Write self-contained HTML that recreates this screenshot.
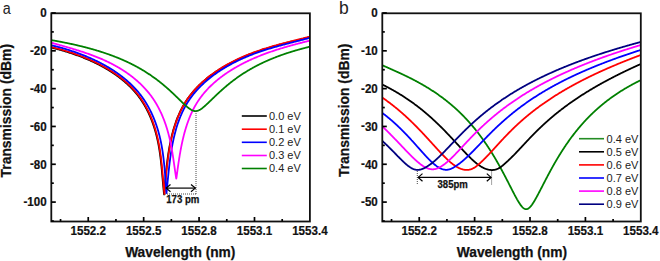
<!DOCTYPE html>
<html><head><meta charset="utf-8"><style>
html,body{margin:0;padding:0;background:#fff;}
svg{display:block;}
text{font-family:"Liberation Sans",sans-serif;}
.tk{font-size:12.3px;font-weight:bold;fill:#111;stroke:#111;stroke-width:0.2px;}
.ti{font-size:13.9px;font-weight:bold;fill:#111;stroke:#111;stroke-width:0.25px;}
.pl{font-size:17.5px;fill:#222;}
.lg{font-size:11px;fill:#222;}
.an{font-size:10.6px;font-weight:bold;fill:#111;stroke:#111;stroke-width:0.25px;}
</style></head><body>
<svg xmlns="http://www.w3.org/2000/svg" width="660" height="261" viewBox="0 0 660 261">
<defs><clipPath id="ca"><rect x="51.3" y="13.3" width="258.60" height="208.2"/></clipPath><clipPath id="cb"><rect x="382.3" y="13.3" width="258.50" height="208.2"/></clipPath></defs>
<rect width="660" height="261" fill="#fff"/>
<polyline clip-path="url(#ca)" points="49.60,47.16 50.25,47.31 50.89,47.47 51.54,47.62 52.18,47.78 52.83,47.94 53.48,48.10 54.13,48.26 54.78,48.43 55.43,48.59 56.08,48.76 56.73,48.93 57.39,49.11 58.04,49.28 58.69,49.46 59.35,49.64 60.00,49.82 60.66,50.00 61.32,50.19 61.98,50.37 62.63,50.56 63.29,50.76 63.95,50.95 64.61,51.15 65.27,51.34 65.93,51.54 66.59,51.75 67.25,51.95 67.91,52.16 68.57,52.37 69.23,52.58 69.89,52.79 70.55,53.01 71.21,53.22 71.87,53.44 72.53,53.67 73.19,53.89 73.85,54.12 74.51,54.35 75.17,54.58 75.83,54.81 76.49,55.05 77.14,55.28 77.80,55.52 78.46,55.77 79.12,56.01 79.77,56.26 80.43,56.51 81.09,56.76 81.74,57.01 82.40,57.27 83.05,57.53 83.70,57.79 84.36,58.05 85.01,58.32 85.66,58.59 86.31,58.86 86.96,59.13 87.61,59.41 88.25,59.69 88.90,59.97 89.54,60.25 90.19,60.54 90.83,60.83 91.47,61.12 92.12,61.41 92.75,61.70 93.39,62.00 94.03,62.30 94.67,62.61 95.30,62.91 95.93,63.22 96.56,63.53 97.20,63.84 97.82,64.16 98.45,64.48 99.08,64.80 99.70,65.12 100.32,65.45 100.94,65.78 101.56,66.11 102.18,66.44 102.80,66.78 103.41,67.12 104.02,67.46 104.63,67.81 105.24,68.15 105.84,68.51 106.45,68.86 107.05,69.21 107.65,69.57 108.25,69.93 108.84,70.30 109.44,70.66 110.03,71.03 110.62,71.40 111.21,71.78 111.79,72.16 112.37,72.54 112.95,72.92 113.53,73.31 114.10,73.69 114.68,74.09 115.25,74.48 115.81,74.88 116.38,75.28 116.94,75.68 117.50,76.08 118.06,76.49 118.61,76.90 119.16,77.32 119.71,77.74 120.26,78.16 120.80,78.58 121.34,79.01 121.87,79.43 122.41,79.87 122.94,80.30 123.47,80.74 123.99,81.18 124.51,81.62 125.03,82.07 125.54,82.52 126.06,82.97 126.56,83.43 127.07,83.89 127.57,84.35 128.07,84.81 128.56,85.28 129.06,85.75 129.54,86.22 130.03,86.70 130.51,87.18 130.99,87.66 131.46,88.15 131.93,88.64 132.40,89.13 132.86,89.63 133.32,90.13 133.77,90.63 134.22,91.13 134.67,91.64 135.11,92.15 135.55,92.67 135.99,93.18 136.42,93.71 136.85,94.23 137.27,94.76 137.69,95.29 138.10,95.82 138.51,96.36 138.92,96.90 139.32,97.44 139.72,97.99 140.11,98.54 140.50,99.09 140.88,99.65 141.27,100.20 141.64,100.77 142.01,101.33 142.38,101.90 142.75,102.47 143.11,103.04 143.46,103.62 143.81,104.20 144.16,104.78 144.51,105.37 144.85,105.96 145.18,106.55 145.51,107.14 145.84,107.73 146.17,108.33 146.49,108.93 146.80,109.54 147.11,110.14 147.42,110.75 147.73,111.36 148.03,111.97 148.32,112.59 148.62,113.21 148.91,113.83 149.19,114.45 149.47,115.07 149.75,115.70 150.03,116.33 150.30,116.96 150.56,117.59 150.83,118.23 151.09,118.87 151.34,119.51 151.59,120.15 151.84,120.79 152.09,121.43 152.33,122.08 152.57,122.73 152.80,123.38 153.03,124.03 153.26,124.69 153.48,125.34 153.70,126.00 153.92,126.66 154.13,127.32 154.34,127.98 154.55,128.64 154.75,129.31 154.95,129.97 155.15,130.64 155.34,131.31 155.53,131.98 155.72,132.65 155.90,133.32 156.08,134.00 156.26,134.67 156.43,135.35 156.60,136.03 156.77,136.70 156.93,137.38 157.09,138.07 157.25,138.75 157.41,139.43 157.56,140.11 157.71,140.80 157.85,141.48 157.99,142.17 158.13,142.86 158.27,143.54 158.40,144.23 158.53,144.92 158.66,145.61 158.78,146.30 158.90,146.99 159.02,147.69 159.14,148.38 159.26,149.07 159.37,149.76 159.48,150.46 159.58,151.15 159.69,151.85 159.79,152.54 159.89,153.24 159.99,153.93 160.09,154.63 160.18,155.33 160.27,156.02 160.37,156.72 160.45,157.42 160.54,158.11 160.63,158.81 160.71,159.51 160.79,160.20 160.87,160.90 160.95,161.60 161.03,162.30 161.10,162.99 161.18,163.69 161.25,164.39 161.33,165.08 161.40,165.78 161.47,166.48 161.54,167.17 161.60,167.87 161.67,168.57 161.74,169.26 161.80,169.96 161.87,170.65 161.93,171.35 161.99,172.04 162.06,172.73 162.12,173.43 162.18,174.12 162.24,174.81 162.30,175.50 162.36,176.19 162.42,176.88 162.48,177.57 162.54,178.26 162.60,178.95 162.66,179.63 162.72,180.32 162.78,181.01 162.84,181.69 162.90,182.37 162.96,183.06 163.02,183.74 163.08,184.42 163.15,185.10 163.21,185.78 163.27,186.46 163.33,187.13 163.40,187.81 163.46,188.48 163.53,189.16 163.59,189.83 163.66,190.50 163.73,191.17 163.79,191.84 163.86,192.50 163.94,193.17 164.01,193.83 164.08,194.49 164.19,193.72 164.25,192.95 164.31,192.18 164.38,191.41 164.44,190.63 164.51,189.86 164.57,189.08 164.64,188.30 164.70,187.51 164.77,186.73 164.83,185.94 164.90,185.16 164.96,184.37 165.03,183.57 165.10,182.78 165.16,181.99 165.23,181.19 165.30,180.40 165.37,179.60 165.44,178.80 165.51,178.00 165.59,177.20 165.66,176.40 165.73,175.59 165.81,174.79 165.89,173.98 165.96,173.18 166.04,172.37 166.12,171.56 166.20,170.75 166.29,169.95 166.37,169.14 166.46,168.33 166.55,167.52 166.63,166.70 166.72,165.89 166.82,165.08 166.91,164.27 167.01,163.46 167.11,162.64 167.21,161.83 167.31,161.02 167.41,160.21 167.52,159.39 167.63,158.58 167.74,157.77 167.85,156.96 167.96,156.14 168.08,155.33 168.20,154.52 168.32,153.71 168.45,152.90 168.57,152.09 168.70,151.28 168.84,150.47 168.97,149.66 169.11,148.85 169.25,148.05 169.39,147.24 169.54,146.44 169.69,145.63 169.84,144.83 170.00,144.02 170.16,143.22 170.32,142.42 170.48,141.62 170.65,140.82 170.83,140.03 171.00,139.23 171.18,138.44 171.36,137.65 171.55,136.85 171.74,136.06 171.93,135.28 172.13,134.49 172.33,133.70 172.54,132.92 172.74,132.14 172.96,131.36 173.17,130.58 173.39,129.81 173.62,129.03 173.85,128.26 174.08,127.49 174.32,126.72 174.56,125.96 174.81,125.19 175.06,124.43 175.31,123.67 175.57,122.92 175.84,122.16 176.11,121.41 176.38,120.66 176.66,119.92 176.94,119.17 177.23,118.43 177.52,117.69 177.82,116.96 178.12,116.22 178.43,115.49 178.75,114.77 179.06,114.04 179.39,113.32 179.72,112.61 180.05,111.89 180.39,111.18 180.74,110.47 181.09,109.77 181.44,109.07 181.81,108.37 182.17,107.67 182.55,106.98 182.93,106.29 183.31,105.61 183.70,104.93 184.10,104.25 184.50,103.58 184.91,102.91 185.33,102.25 185.75,101.58 186.17,100.93 186.61,100.27 187.05,99.62 187.49,98.98 187.94,98.34 188.40,97.70 188.86,97.07 189.33,96.44 189.81,95.81 190.29,95.19 190.77,94.57 191.27,93.96 191.76,93.35 192.27,92.74 192.77,92.14 193.29,91.54 193.81,90.94 194.33,90.35 194.86,89.77 195.39,89.18 195.93,88.60 196.48,88.03 197.03,87.46 197.58,86.89 198.14,86.32 198.70,85.76 199.27,85.21 199.85,84.65 200.42,84.11 201.01,83.56 201.59,83.02 202.18,82.48 202.78,81.95 203.38,81.42 203.98,80.89 204.59,80.37 205.20,79.85 205.82,79.33 206.44,78.82 207.07,78.31 207.70,77.81 208.33,77.31 208.96,76.81 209.60,76.32 210.25,75.83 210.90,75.34 211.55,74.86 212.20,74.38 212.86,73.91 213.52,73.44 214.18,72.97 214.85,72.50 215.52,72.04 216.20,71.59 216.88,71.13 217.56,70.68 218.24,70.24 218.93,69.79 219.62,69.36 220.31,68.92 221.00,68.49 221.70,68.06 222.40,67.64 223.10,67.21 223.81,66.80 224.52,66.38 225.23,65.97 225.94,65.56 226.66,65.16 227.37,64.76 228.09,64.36 228.81,63.97 229.54,63.58 230.26,63.19 230.99,62.81 231.72,62.43 232.45,62.06 233.19,61.68 233.92,61.31 234.66,60.95 235.40,60.59 236.14,60.23 236.88,59.87 237.62,59.52 238.37,59.17 239.11,58.83 239.86,58.48 240.61,58.15 241.36,57.81 242.11,57.48 242.86,57.15 243.61,56.82 244.37,56.50 245.12,56.18 245.88,55.87 246.63,55.56 247.39,55.25 248.15,54.94 248.91,54.64 249.66,54.34 250.42,54.05 251.18,53.75 251.94,53.47 252.70,53.18 253.46,52.90 254.23,52.62 254.99,52.34 255.75,52.07 256.51,51.80 257.28,51.53 258.04,51.26 258.81,51.00 259.57,50.74 260.33,50.48 261.10,50.23 261.87,49.97 262.63,49.72 263.40,49.48 264.17,49.23 264.93,48.99 265.70,48.75 266.47,48.51 267.24,48.27 268.01,48.04 268.78,47.80 269.54,47.57 270.31,47.35 271.08,47.12 271.85,46.89 272.63,46.67 273.40,46.45 274.17,46.23 274.94,46.01 275.71,45.80 276.48,45.58 277.25,45.37 278.03,45.16 278.80,44.95 279.57,44.74 280.35,44.53 281.12,44.32 281.89,44.12 282.67,43.91 283.44,43.71 284.21,43.51 284.99,43.30 285.76,43.10 286.54,42.90 287.31,42.70 288.09,42.51 288.86,42.31 289.64,42.11 290.41,41.92 291.19,41.72 291.96,41.52 292.74,41.33 293.52,41.14 294.29,40.94 295.07,40.75 295.84,40.55 296.62,40.36 297.40,40.17 298.17,39.97 298.95,39.78 299.72,39.59 300.50,39.39 301.28,39.20 302.05,39.01 302.83,38.81 303.61,38.62 304.38,38.43 305.16,38.23 305.94,38.04 306.71,37.84 307.49,37.64 308.27,37.45 309.04,37.25 309.82,37.05 310.59,36.85" fill="none" stroke="#000000" stroke-width="1.8" stroke-linejoin="round"/>
<polyline clip-path="url(#ca)" points="50.00,46.66 50.65,46.81 51.29,46.97 51.94,47.12 52.58,47.28 53.23,47.44 53.88,47.60 54.53,47.76 55.18,47.93 55.83,48.09 56.48,48.26 57.13,48.43 57.79,48.61 58.44,48.78 59.09,48.96 59.75,49.14 60.40,49.32 61.06,49.50 61.72,49.69 62.38,49.87 63.03,50.06 63.69,50.26 64.35,50.45 65.01,50.65 65.67,50.84 66.33,51.04 66.99,51.25 67.65,51.45 68.31,51.66 68.97,51.87 69.63,52.08 70.29,52.29 70.95,52.51 71.61,52.72 72.27,52.94 72.93,53.17 73.59,53.39 74.25,53.62 74.91,53.85 75.57,54.08 76.23,54.31 76.89,54.55 77.54,54.78 78.20,55.02 78.86,55.27 79.52,55.51 80.17,55.76 80.83,56.01 81.49,56.26 82.14,56.51 82.80,56.77 83.45,57.03 84.10,57.29 84.76,57.55 85.41,57.82 86.06,58.09 86.71,58.36 87.36,58.63 88.01,58.91 88.65,59.19 89.30,59.47 89.94,59.75 90.59,60.04 91.23,60.33 91.87,60.62 92.52,60.91 93.15,61.20 93.79,61.50 94.43,61.80 95.07,62.11 95.70,62.41 96.33,62.72 96.96,63.03 97.60,63.34 98.22,63.66 98.85,63.98 99.48,64.30 100.10,64.62 100.72,64.95 101.34,65.28 101.96,65.61 102.58,65.94 103.20,66.28 103.81,66.62 104.42,66.96 105.03,67.31 105.64,67.65 106.24,68.01 106.85,68.36 107.45,68.71 108.05,69.07 108.65,69.43 109.24,69.80 109.84,70.16 110.43,70.53 111.02,70.90 111.61,71.28 112.19,71.66 112.77,72.04 113.35,72.42 113.93,72.81 114.50,73.19 115.08,73.59 115.65,73.98 116.21,74.38 116.78,74.78 117.34,75.18 117.90,75.58 118.46,75.99 119.01,76.40 119.56,76.82 120.11,77.24 120.66,77.66 121.20,78.08 121.74,78.51 122.27,78.93 122.81,79.37 123.34,79.80 123.87,80.24 124.39,80.68 124.91,81.12 125.43,81.57 125.94,82.02 126.46,82.47 126.96,82.93 127.47,83.39 127.97,83.85 128.47,84.31 128.96,84.78 129.46,85.25 129.94,85.72 130.43,86.20 130.91,86.68 131.39,87.16 131.86,87.65 132.33,88.14 132.80,88.63 133.26,89.13 133.72,89.63 134.17,90.13 134.62,90.63 135.07,91.14 135.51,91.65 135.95,92.17 136.39,92.68 136.82,93.21 137.25,93.73 137.67,94.26 138.09,94.79 138.50,95.32 138.91,95.86 139.32,96.40 139.72,96.94 140.12,97.49 140.51,98.04 140.90,98.59 141.28,99.15 141.67,99.70 142.04,100.27 142.41,100.83 142.78,101.40 143.15,101.97 143.51,102.54 143.86,103.12 144.21,103.70 144.56,104.28 144.91,104.87 145.25,105.46 145.58,106.05 145.91,106.64 146.24,107.23 146.57,107.83 146.89,108.43 147.20,109.04 147.51,109.64 147.82,110.25 148.13,110.86 148.43,111.47 148.72,112.09 149.02,112.71 149.31,113.33 149.59,113.95 149.87,114.57 150.15,115.20 150.43,115.83 150.70,116.46 150.96,117.09 151.23,117.73 151.49,118.37 151.74,119.01 151.99,119.65 152.24,120.29 152.49,120.93 152.73,121.58 152.97,122.23 153.20,122.88 153.43,123.53 153.66,124.19 153.88,124.84 154.10,125.50 154.32,126.16 154.53,126.82 154.74,127.48 154.95,128.14 155.15,128.81 155.35,129.47 155.55,130.14 155.74,130.81 155.93,131.48 156.12,132.15 156.30,132.82 156.48,133.50 156.66,134.17 156.83,134.85 157.00,135.53 157.17,136.20 157.33,136.88 157.49,137.57 157.65,138.25 157.81,138.93 157.96,139.61 158.11,140.30 158.25,140.98 158.39,141.67 158.53,142.36 158.67,143.04 158.80,143.73 158.93,144.42 159.06,145.11 159.18,145.80 159.30,146.49 159.42,147.19 159.54,147.88 159.66,148.57 159.77,149.26 159.88,149.96 159.98,150.65 160.09,151.35 160.19,152.04 160.29,152.74 160.39,153.43 160.49,154.13 160.58,154.83 160.67,155.52 160.77,156.22 160.85,156.92 160.94,157.61 161.03,158.31 161.11,159.01 161.19,159.70 161.27,160.40 161.35,161.10 161.43,161.80 161.50,162.49 161.58,163.19 161.65,163.89 161.73,164.58 161.80,165.28 161.87,165.98 161.94,166.67 162.00,167.37 162.07,168.07 162.14,168.76 162.20,169.46 162.27,170.15 162.33,170.85 162.39,171.54 162.46,172.23 162.52,172.93 162.58,173.62 162.64,174.31 162.70,175.00 162.76,175.69 162.82,176.38 162.88,177.07 162.94,177.76 163.00,178.45 163.06,179.13 163.12,179.82 163.18,180.51 163.24,181.19 163.30,181.87 163.36,182.56 163.42,183.24 163.48,183.92 163.55,184.60 163.61,185.28 163.67,185.96 163.73,186.63 163.80,187.31 163.86,187.98 163.93,188.66 163.99,189.33 164.06,190.00 164.13,190.67 164.19,191.34 164.26,192.00 164.34,192.67 164.41,193.33 164.48,193.99 164.59,193.22 164.65,192.45 164.71,191.68 164.78,190.91 164.84,190.13 164.91,189.36 164.97,188.58 165.04,187.80 165.10,187.01 165.17,186.23 165.23,185.44 165.30,184.66 165.36,183.87 165.43,183.07 165.50,182.28 165.56,181.49 165.63,180.69 165.70,179.90 165.77,179.10 165.84,178.30 165.91,177.50 165.99,176.70 166.06,175.90 166.13,175.09 166.21,174.29 166.29,173.48 166.36,172.68 166.44,171.87 166.52,171.06 166.60,170.25 166.69,169.45 166.77,168.64 166.86,167.83 166.95,167.02 167.03,166.20 167.12,165.39 167.22,164.58 167.31,163.77 167.41,162.96 167.51,162.14 167.61,161.33 167.71,160.52 167.81,159.71 167.92,158.89 168.03,158.08 168.14,157.27 168.25,156.46 168.36,155.64 168.48,154.83 168.60,154.02 168.72,153.21 168.85,152.40 168.97,151.59 169.10,150.78 169.24,149.97 169.37,149.16 169.51,148.35 169.65,147.55 169.79,146.74 169.94,145.94 170.09,145.13 170.24,144.33 170.40,143.52 170.56,142.72 170.72,141.92 170.88,141.12 171.05,140.32 171.23,139.53 171.40,138.73 171.58,137.94 171.76,137.15 171.95,136.35 172.14,135.56 172.33,134.78 172.53,133.99 172.73,133.20 172.94,132.42 173.14,131.64 173.36,130.86 173.57,130.08 173.79,129.31 174.02,128.53 174.25,127.76 174.48,126.99 174.72,126.22 174.96,125.46 175.21,124.69 175.46,123.93 175.71,123.17 175.97,122.42 176.24,121.66 176.51,120.91 176.78,120.16 177.06,119.42 177.34,118.67 177.63,117.93 177.92,117.19 178.22,116.46 178.52,115.72 178.83,114.99 179.15,114.27 179.46,113.54 179.79,112.82 180.12,112.11 180.45,111.39 180.79,110.68 181.14,109.97 181.49,109.27 181.84,108.57 182.21,107.87 182.57,107.17 182.95,106.48 183.33,105.79 183.71,105.11 184.10,104.43 184.50,103.75 184.90,103.08 185.31,102.41 185.73,101.75 186.15,101.08 186.57,100.43 187.01,99.77 187.45,99.12 187.89,98.48 188.34,97.84 188.80,97.20 189.26,96.57 189.73,95.94 190.21,95.31 190.69,94.69 191.17,94.07 191.67,93.46 192.16,92.85 192.67,92.24 193.17,91.64 193.69,91.04 194.21,90.44 194.73,89.85 195.26,89.27 195.79,88.68 196.33,88.10 196.88,87.53 197.43,86.96 197.98,86.39 198.54,85.82 199.10,85.26 199.67,84.71 200.25,84.15 200.82,83.61 201.41,83.06 201.99,82.52 202.58,81.98 203.18,81.45 203.78,80.92 204.38,80.39 204.99,79.87 205.60,79.35 206.22,78.83 206.84,78.32 207.47,77.81 208.10,77.31 208.73,76.81 209.36,76.31 210.00,75.82 210.65,75.33 211.30,74.84 211.95,74.36 212.60,73.88 213.26,73.41 213.92,72.94 214.58,72.47 215.25,72.00 215.92,71.54 216.60,71.09 217.28,70.63 217.96,70.18 218.64,69.74 219.33,69.29 220.02,68.86 220.71,68.42 221.40,67.99 222.10,67.56 222.80,67.14 223.50,66.71 224.21,66.30 224.92,65.88 225.63,65.47 226.34,65.06 227.06,64.66 227.77,64.26 228.49,63.86 229.21,63.47 229.94,63.08 230.66,62.69 231.39,62.31 232.12,61.93 232.85,61.56 233.59,61.18 234.32,60.81 235.06,60.45 235.80,60.09 236.54,59.73 237.28,59.37 238.02,59.02 238.77,58.67 239.51,58.33 240.26,57.98 241.01,57.65 241.76,57.31 242.51,56.98 243.26,56.65 244.01,56.32 244.77,56.00 245.52,55.68 246.28,55.37 247.03,55.06 247.79,54.75 248.55,54.44 249.31,54.14 250.06,53.84 250.82,53.55 251.58,53.25 252.34,52.97 253.10,52.68 253.86,52.40 254.63,52.12 255.39,51.84 256.15,51.57 256.91,51.30 257.68,51.03 258.44,50.76 259.21,50.50 259.97,50.24 260.73,49.98 261.50,49.73 262.27,49.47 263.03,49.22 263.80,48.98 264.57,48.73 265.33,48.49 266.10,48.25 266.87,48.01 267.64,47.77 268.41,47.54 269.18,47.30 269.94,47.07 270.71,46.85 271.48,46.62 272.25,46.39 273.03,46.17 273.80,45.95 274.57,45.73 275.34,45.51 276.11,45.30 276.88,45.08 277.65,44.87 278.43,44.66 279.20,44.45 279.97,44.24 280.75,44.03 281.52,43.82 282.29,43.62 283.07,43.41 283.84,43.21 284.61,43.01 285.39,42.80 286.16,42.60 286.94,42.40 287.71,42.20 288.49,42.01 289.26,41.81 290.04,41.61 290.81,41.42 291.59,41.22 292.36,41.02 293.14,40.83 293.92,40.64 294.69,40.44 295.47,40.25 296.24,40.05 297.02,39.86 297.80,39.67 298.57,39.47 299.35,39.28 300.12,39.09 300.90,38.89 301.68,38.70 302.45,38.51 303.23,38.31 304.01,38.12 304.78,37.93 305.56,37.73 306.34,37.54 307.11,37.34 307.89,37.14 308.67,36.95 309.44,36.75 310.22,36.55 310.99,36.35" fill="none" stroke="#ff0000" stroke-width="1.8" stroke-linejoin="round"/>
<polyline clip-path="url(#ca)" points="50.00,44.89 50.66,45.05 51.31,45.20 51.96,45.36 52.61,45.52 53.27,45.68 53.92,45.84 54.58,46.01 55.23,46.17 55.89,46.34 56.55,46.51 57.21,46.69 57.87,46.86 58.53,47.04 59.19,47.22 59.85,47.40 60.51,47.58 61.18,47.77 61.84,47.95 62.50,48.14 63.17,48.34 63.83,48.53 64.50,48.73 65.16,48.92 65.83,49.12 66.49,49.33 67.16,49.53 67.82,49.74 68.49,49.95 69.15,50.16 69.82,50.37 70.49,50.59 71.15,50.81 71.82,51.03 72.49,51.25 73.15,51.47 73.82,51.70 74.48,51.93 75.15,52.16 75.81,52.39 76.48,52.63 77.14,52.87 77.81,53.11 78.47,53.35 79.13,53.60 79.80,53.84 80.46,54.09 81.12,54.35 81.78,54.60 82.44,54.86 83.10,55.12 83.76,55.38 84.42,55.64 85.08,55.91 85.74,56.18 86.39,56.45 87.05,56.72 87.70,57.00 88.36,57.28 89.01,57.56 89.66,57.84 90.31,58.13 90.96,58.41 91.61,58.70 92.26,59.00 92.91,59.29 93.55,59.59 94.20,59.89 94.84,60.19 95.48,60.50 96.12,60.81 96.76,61.12 97.40,61.43 98.04,61.75 98.67,62.07 99.31,62.39 99.94,62.71 100.57,63.04 101.20,63.36 101.82,63.70 102.45,64.03 103.07,64.37 103.69,64.70 104.32,65.05 104.93,65.39 105.55,65.74 106.17,66.09 106.78,66.44 107.39,66.79 108.00,67.15 108.61,67.51 109.21,67.87 109.81,68.24 110.41,68.61 111.01,68.98 111.61,69.35 112.20,69.73 112.80,70.11 113.39,70.49 113.97,70.87 114.56,71.26 115.14,71.65 115.72,72.04 116.30,72.44 116.87,72.84 117.45,73.24 118.02,73.64 118.59,74.05 119.15,74.46 119.71,74.87 120.27,75.29 120.83,75.71 121.38,76.13 121.94,76.55 122.49,76.98 123.03,77.41 123.57,77.84 124.11,78.28 124.65,78.72 125.19,79.16 125.72,79.60 126.24,80.05 126.77,80.50 127.29,80.95 127.81,81.41 128.33,81.87 128.84,82.33 129.35,82.79 129.85,83.26 130.35,83.73 130.85,84.21 131.35,84.68 131.84,85.16 132.33,85.64 132.81,86.13 133.30,86.62 133.77,87.11 134.25,87.61 134.72,88.10 135.19,88.61 135.65,89.11 136.11,89.62 136.56,90.13 137.02,90.64 137.46,91.16 137.91,91.68 138.35,92.20 138.78,92.73 139.22,93.26 139.64,93.79 140.07,94.32 140.49,94.86 140.91,95.40 141.32,95.95 141.72,96.50 142.13,97.05 142.53,97.60 142.92,98.16 143.31,98.72 143.70,99.28 144.08,99.85 144.46,100.42 144.84,100.99 145.21,101.57 145.57,102.15 145.93,102.73 146.29,103.31 146.65,103.90 147.00,104.49 147.34,105.08 147.68,105.67 148.02,106.27 148.36,106.87 148.69,107.47 149.01,108.08 149.34,108.69 149.66,109.30 149.97,109.91 150.28,110.53 150.59,111.14 150.89,111.76 151.19,112.38 151.49,113.01 151.78,113.64 152.07,114.26 152.35,114.90 152.63,115.53 152.91,116.16 153.18,116.80 153.45,117.44 153.72,118.08 153.98,118.73 154.24,119.37 154.49,120.02 154.74,120.67 154.99,121.32 155.24,121.97 155.48,122.63 155.71,123.28 155.95,123.94 156.18,124.60 156.40,125.26 156.63,125.93 156.84,126.59 157.06,127.26 157.27,127.92 157.48,128.59 157.69,129.26 157.89,129.94 158.09,130.61 158.28,131.28 158.48,131.96 158.66,132.64 158.85,133.32 159.03,134.00 159.21,134.68 159.39,135.36 159.56,136.04 159.73,136.73 159.89,137.42 160.05,138.10 160.21,138.79 160.37,139.48 160.52,140.17 160.67,140.86 160.82,141.55 160.96,142.24 161.10,142.94 161.24,143.63 161.37,144.32 161.50,145.02 161.63,145.72 161.76,146.41 161.88,147.11 162.00,147.81 162.12,148.51 162.23,149.21 162.35,149.90 162.46,150.60 162.56,151.31 162.67,152.01 162.77,152.71 162.87,153.41 162.97,154.11 163.07,154.81 163.16,155.52 163.25,156.22 163.34,156.92 163.43,157.62 163.52,158.33 163.60,159.03 163.68,159.73 163.76,160.44 163.84,161.14 163.92,161.85 163.99,162.55 164.07,163.25 164.14,163.96 164.21,164.66 164.28,165.36 164.35,166.06 164.42,166.77 164.48,167.47 164.55,168.17 164.61,168.87 164.67,169.57 164.73,170.28 164.79,170.98 164.85,171.68 164.91,172.38 164.97,173.07 165.02,173.77 165.08,174.47 165.13,175.17 165.19,175.87 165.24,176.56 165.29,177.26 165.35,177.95 165.40,178.65 165.45,179.34 165.50,180.03 165.55,180.72 165.60,181.41 165.65,182.10 165.70,182.79 165.75,183.48 165.80,184.17 165.85,184.85 165.90,185.54 165.95,186.22 166.01,186.91 166.06,187.59 166.11,188.27 166.16,188.95 166.21,189.62 166.26,190.30 166.32,190.98 166.37,191.65 166.42,192.32 166.48,192.99 166.60,192.23 166.67,191.48 166.75,190.72 166.82,189.95 166.90,189.19 166.97,188.43 167.05,187.66 167.12,186.89 167.20,186.12 167.27,185.35 167.35,184.57 167.42,183.80 167.50,183.02 167.57,182.24 167.65,181.46 167.72,180.68 167.80,179.90 167.87,179.12 167.95,178.33 168.03,177.54 168.11,176.76 168.19,175.97 168.26,175.18 168.34,174.39 168.43,173.60 168.51,172.81 168.59,172.01 168.67,171.22 168.76,170.43 168.84,169.63 168.93,168.84 169.02,168.04 169.11,167.24 169.20,166.45 169.29,165.65 169.39,164.85 169.48,164.05 169.58,163.26 169.68,162.46 169.78,161.66 169.88,160.86 169.98,160.06 170.09,159.26 170.19,158.46 170.30,157.67 170.41,156.87 170.53,156.07 170.64,155.27 170.76,154.47 170.88,153.67 171.00,152.88 171.13,152.08 171.25,151.28 171.38,150.49 171.51,149.69 171.65,148.90 171.78,148.10 171.92,147.31 172.07,146.52 172.21,145.73 172.36,144.94 172.51,144.15 172.66,143.36 172.82,142.57 172.98,141.78 173.14,141.00 173.31,140.21 173.48,139.43 173.65,138.65 173.83,137.86 174.01,137.09 174.19,136.31 174.38,135.53 174.57,134.76 174.76,133.98 174.96,133.21 175.16,132.44 175.36,131.67 175.57,130.90 175.78,130.14 176.00,129.37 176.22,128.61 176.44,127.85 176.67,127.10 176.91,126.34 177.14,125.59 177.39,124.84 177.63,124.09 177.88,123.34 178.14,122.60 178.40,121.85 178.66,121.11 178.93,120.38 179.20,119.64 179.48,118.91 179.76,118.18 180.05,117.45 180.34,116.73 180.64,116.01 180.94,115.29 181.25,114.57 181.56,113.86 181.88,113.15 182.20,112.44 182.53,111.73 182.87,111.03 183.21,110.33 183.55,109.64 183.90,108.95 184.26,108.26 184.62,107.57 184.99,106.89 185.36,106.21 185.74,105.54 186.12,104.87 186.51,104.20 186.91,103.53 187.31,102.87 187.72,102.22 188.14,101.56 188.56,100.91 188.99,100.27 189.42,99.63 189.86,98.99 190.30,98.35 190.76,97.72 191.21,97.10 191.68,96.47 192.15,95.86 192.62,95.24 193.10,94.63 193.59,94.02 194.08,93.42 194.58,92.82 195.08,92.22 195.59,91.63 196.10,91.04 196.62,90.46 197.15,89.87 197.68,89.30 198.21,88.72 198.75,88.15 199.29,87.59 199.84,87.02 200.40,86.47 200.96,85.91 201.52,85.36 202.09,84.81 202.66,84.27 203.24,83.73 203.82,83.19 204.40,82.66 204.99,82.13 205.59,81.61 206.19,81.08 206.79,80.57 207.40,80.05 208.01,79.54 208.62,79.03 209.24,78.53 209.87,78.03 210.49,77.54 211.12,77.04 211.76,76.56 212.39,76.07 213.03,75.59 213.68,75.11 214.33,74.64 214.98,74.17 215.63,73.70 216.29,73.24 216.95,72.78 217.62,72.32 218.28,71.87 218.95,71.42 219.63,70.98 220.30,70.53 220.98,70.10 221.66,69.66 222.35,69.23 223.03,68.80 223.72,68.38 224.41,67.96 225.11,67.54 225.80,67.13 226.50,66.72 227.20,66.31 227.91,65.91 228.61,65.51 229.32,65.12 230.03,64.73 230.74,64.34 231.45,63.95 232.17,63.57 232.88,63.19 233.60,62.82 234.32,62.45 235.04,62.08 235.77,61.72 236.49,61.36 237.22,61.00 237.95,60.65 238.67,60.30 239.40,59.95 240.13,59.61 240.87,59.27 241.60,58.94 242.33,58.60 243.07,58.27 243.80,57.95 244.54,57.63 245.28,57.31 246.01,56.99 246.75,56.68 247.49,56.37 248.23,56.07 248.97,55.77 249.71,55.47 250.45,55.17 251.19,54.88 251.93,54.59 252.67,54.31 253.41,54.03 254.16,53.75 254.90,53.47 255.64,53.20 256.38,52.93 257.12,52.66 257.87,52.40 258.61,52.14 259.35,51.88 260.10,51.63 260.84,51.37 261.59,51.12 262.33,50.88 263.08,50.63 263.82,50.39 264.57,50.15 265.32,49.91 266.06,49.67 266.81,49.44 267.56,49.21 268.30,48.98 269.05,48.75 269.80,48.52 270.55,48.30 271.30,48.08 272.05,47.85 272.80,47.64 273.55,47.42 274.30,47.20 275.05,46.99 275.81,46.78 276.56,46.56 277.31,46.35 278.07,46.14 278.82,45.94 279.57,45.73 280.33,45.52 281.08,45.32 281.84,45.12 282.60,44.91 283.35,44.71 284.11,44.51 284.87,44.31 285.63,44.11 286.39,43.91 287.15,43.71 287.91,43.52 288.67,43.32 289.43,43.12 290.19,42.92 290.95,42.73 291.72,42.53 292.48,42.33 293.24,42.14 294.01,41.94 294.77,41.75 295.54,41.55 296.31,41.35 297.07,41.16 297.84,40.96 298.61,40.76 299.38,40.57 300.15,40.37 300.92,40.17 301.69,39.97 302.46,39.77 303.24,39.57 304.01,39.37 304.78,39.17 305.56,38.96 306.33,38.76 307.11,38.56 307.89,38.35 308.66,38.14 309.44,37.94 310.22,37.73 311.00,37.52" fill="none" stroke="#0000ff" stroke-width="1.8" stroke-linejoin="round"/>
<polyline clip-path="url(#ca)" points="50.00,42.31 50.65,42.49 51.30,42.68 51.95,42.86 52.60,43.05 53.25,43.23 53.89,43.42 54.55,43.60 55.20,43.79 55.85,43.97 56.50,44.16 57.15,44.34 57.80,44.53 58.45,44.71 59.11,44.90 59.76,45.08 60.41,45.27 61.07,45.45 61.72,45.64 62.38,45.82 63.03,46.01 63.68,46.20 64.34,46.38 64.99,46.57 65.65,46.76 66.30,46.95 66.96,47.14 67.62,47.33 68.27,47.52 68.93,47.71 69.58,47.90 70.24,48.10 70.89,48.29 71.55,48.48 72.20,48.68 72.86,48.87 73.51,49.07 74.17,49.27 74.82,49.47 75.48,49.67 76.13,49.87 76.79,50.07 77.44,50.27 78.09,50.48 78.75,50.68 79.40,50.89 80.05,51.10 80.71,51.31 81.36,51.52 82.01,51.73 82.66,51.94 83.31,52.16 83.96,52.37 84.61,52.59 85.26,52.81 85.91,53.03 86.56,53.25 87.21,53.48 87.86,53.70 88.51,53.93 89.15,54.16 89.80,54.39 90.44,54.62 91.09,54.86 91.73,55.10 92.38,55.34 93.02,55.58 93.66,55.82 94.30,56.06 94.94,56.31 95.58,56.56 96.22,56.81 96.86,57.06 97.50,57.32 98.14,57.57 98.77,57.83 99.41,58.10 100.04,58.36 100.67,58.63 101.31,58.90 101.94,59.17 102.57,59.44 103.20,59.72 103.82,60.00 104.45,60.28 105.08,60.57 105.70,60.85 106.33,61.14 106.95,61.44 107.57,61.73 108.19,62.03 108.81,62.33 109.43,62.63 110.05,62.94 110.66,63.25 111.28,63.56 111.89,63.88 112.50,64.20 113.11,64.52 113.72,64.84 114.33,65.17 114.93,65.50 115.54,65.84 116.14,66.17 116.74,66.51 117.34,66.85 117.94,67.20 118.53,67.55 119.13,67.90 119.72,68.25 120.31,68.61 120.90,68.97 121.49,69.33 122.07,69.70 122.65,70.07 123.23,70.44 123.81,70.82 124.39,71.19 124.96,71.58 125.54,71.96 126.10,72.35 126.67,72.74 127.24,73.13 127.80,73.53 128.36,73.92 128.92,74.33 129.47,74.73 130.03,75.14 130.58,75.55 131.12,75.96 131.67,76.38 132.21,76.80 132.75,77.22 133.29,77.65 133.82,78.08 134.35,78.51 134.88,78.95 135.40,79.38 135.93,79.83 136.44,80.27 136.96,80.72 137.47,81.17 137.98,81.62 138.49,82.08 138.99,82.54 139.49,83.00 139.99,83.46 140.48,83.93 140.97,84.40 141.46,84.88 141.94,85.36 142.42,85.84 142.90,86.32 143.37,86.81 143.84,87.30 144.31,87.79 144.77,88.28 145.23,88.78 145.68,89.28 146.13,89.79 146.58,90.30 147.02,90.81 147.46,91.32 147.89,91.84 148.32,92.36 148.75,92.88 149.17,93.41 149.59,93.94 150.00,94.47 150.41,95.01 150.82,95.54 151.22,96.09 151.62,96.63 152.01,97.18 152.40,97.73 152.78,98.28 153.16,98.84 153.54,99.40 153.91,99.96 154.28,100.53 154.64,101.09 155.00,101.67 155.36,102.24 155.71,102.81 156.06,103.39 156.40,103.98 156.74,104.56 157.07,105.15 157.40,105.73 157.73,106.33 158.05,106.92 158.37,107.52 158.69,108.12 159.00,108.72 159.31,109.32 159.61,109.93 159.91,110.53 160.21,111.14 160.50,111.76 160.79,112.37 161.08,112.99 161.36,113.61 161.64,114.23 161.91,114.85 162.18,115.47 162.45,116.10 162.71,116.73 162.97,117.36 163.23,117.99 163.48,118.63 163.73,119.26 163.98,119.90 164.22,120.54 164.46,121.18 164.70,121.82 164.93,122.47 165.16,123.11 165.38,123.76 165.61,124.41 165.83,125.06 166.04,125.71 166.26,126.36 166.47,127.02 166.67,127.67 166.88,128.33 167.08,128.99 167.28,129.65 167.47,130.31 167.66,130.97 167.85,131.63 168.04,132.29 168.22,132.96 168.40,133.63 168.57,134.29 168.75,134.96 168.92,135.63 169.09,136.30 169.25,136.97 169.41,137.64 169.57,138.31 169.73,138.98 169.88,139.66 170.03,140.33 170.18,141.01 170.33,141.68 170.47,142.36 170.61,143.03 170.75,143.71 170.89,144.39 171.02,145.06 171.15,145.74 171.28,146.42 171.41,147.10 171.53,147.78 171.66,148.46 171.78,149.14 171.90,149.82 172.01,150.49 172.13,151.17 172.24,151.85 172.36,152.53 172.47,153.21 172.58,153.89 172.68,154.57 172.79,155.25 172.90,155.93 173.00,156.61 173.11,157.28 173.21,157.96 173.31,158.64 173.41,159.32 173.51,159.99 173.61,160.67 173.71,161.35 173.80,162.02 173.90,162.70 174.00,163.37 174.09,164.04 174.19,164.71 174.29,165.39 174.38,166.06 174.48,166.73 174.57,167.40 174.67,168.07 174.76,168.73 174.86,169.40 174.95,170.07 175.05,170.73 175.15,171.39 175.24,172.06 175.34,172.72 175.44,173.38 175.54,174.03 175.64,174.69 175.74,175.35 175.84,176.00 175.94,176.66 176.04,177.31 176.14,177.96 176.25,178.61 176.44,177.92 176.53,177.24 176.62,176.56 176.71,175.88 176.80,175.20 176.89,174.52 176.99,173.83 177.08,173.14 177.17,172.46 177.26,171.77 177.36,171.07 177.45,170.38 177.55,169.69 177.65,168.99 177.74,168.30 177.84,167.60 177.94,166.90 178.04,166.20 178.14,165.50 178.24,164.80 178.34,164.10 178.44,163.40 178.55,162.69 178.65,161.99 178.76,161.29 178.87,160.58 178.97,159.87 179.08,159.17 179.20,158.46 179.31,157.75 179.42,157.04 179.54,156.34 179.65,155.63 179.77,154.92 179.89,154.21 180.01,153.50 180.14,152.79 180.26,152.08 180.39,151.37 180.52,150.66 180.65,149.95 180.78,149.24 180.91,148.53 181.05,147.82 181.18,147.11 181.32,146.41 181.47,145.70 181.61,144.99 181.76,144.28 181.90,143.57 182.06,142.87 182.21,142.16 182.36,141.46 182.52,140.75 182.68,140.05 182.84,139.34 183.01,138.64 183.18,137.94 183.35,137.24 183.52,136.54 183.69,135.84 183.87,135.14 184.05,134.44 184.24,133.74 184.42,133.05 184.61,132.35 184.80,131.66 185.00,130.97 185.20,130.28 185.40,129.59 185.60,128.90 185.81,128.22 186.02,127.53 186.24,126.85 186.45,126.17 186.67,125.49 186.90,124.81 187.12,124.13 187.35,123.46 187.59,122.79 187.83,122.11 188.07,121.44 188.31,120.78 188.56,120.11 188.81,119.45 189.07,118.79 189.33,118.13 189.59,117.47 189.86,116.82 190.13,116.16 190.41,115.51 190.69,114.87 190.97,114.22 191.26,113.58 191.55,112.94 191.85,112.30 192.15,111.66 192.45,111.03 192.76,110.40 193.07,109.77 193.39,109.15 193.71,108.52 194.04,107.90 194.37,107.29 194.70,106.67 195.04,106.06 195.39,105.46 195.74,104.85 196.09,104.25 196.45,103.65 196.81,103.06 197.18,102.47 197.55,101.88 197.93,101.29 198.31,100.71 198.70,100.13 199.10,99.56 199.49,98.98 199.90,98.42 200.30,97.85 200.72,97.29 201.13,96.73 201.55,96.18 201.98,95.62 202.41,95.08 202.85,94.53 203.29,93.99 203.73,93.45 204.18,92.92 204.63,92.38 205.09,91.85 205.55,91.33 206.02,90.81 206.49,90.29 206.96,89.77 207.44,89.26 207.92,88.75 208.41,88.24 208.90,87.74 209.39,87.24 209.89,86.74 210.39,86.25 210.89,85.76 211.40,85.27 211.92,84.79 212.43,84.31 212.95,83.83 213.47,83.36 214.00,82.88 214.53,82.42 215.07,81.95 215.60,81.49 216.14,81.03 216.69,80.57 217.23,80.12 217.78,79.67 218.33,79.22 218.89,78.78 219.45,78.34 220.01,77.90 220.58,77.46 221.14,77.03 221.72,76.60 222.29,76.18 222.86,75.75 223.44,75.33 224.03,74.92 224.61,74.50 225.20,74.09 225.79,73.68 226.38,73.28 226.97,72.87 227.57,72.47 228.17,72.08 228.77,71.68 229.37,71.29 229.98,70.90 230.59,70.52 231.20,70.13 231.81,69.75 232.42,69.38 233.04,69.00 233.66,68.63 234.28,68.26 234.90,67.90 235.52,67.54 236.15,67.18 236.77,66.82 237.40,66.46 238.03,66.11 238.66,65.76 239.30,65.42 239.93,65.07 240.57,64.73 241.21,64.39 241.85,64.06 242.49,63.72 243.13,63.39 243.77,63.07 244.42,62.74 245.06,62.42 245.71,62.10 246.35,61.78 247.00,61.47 247.65,61.16 248.30,60.85 248.95,60.54 249.60,60.24 250.26,59.94 250.91,59.64 251.56,59.34 252.22,59.05 252.87,58.76 253.53,58.47 254.19,58.18 254.85,57.90 255.50,57.62 256.16,57.34 256.82,57.06 257.48,56.79 258.14,56.52 258.81,56.25 259.47,55.98 260.13,55.71 260.79,55.45 261.46,55.19 262.12,54.93 262.79,54.67 263.45,54.42 264.12,54.17 264.79,53.92 265.45,53.67 266.12,53.42 266.79,53.18 267.46,52.93 268.13,52.69 268.80,52.46 269.47,52.22 270.14,51.98 270.81,51.75 271.49,51.52 272.16,51.29 272.83,51.06 273.51,50.84 274.18,50.61 274.85,50.39 275.53,50.17 276.20,49.95 276.88,49.73 277.56,49.51 278.23,49.30 278.91,49.09 279.59,48.88 280.26,48.67 280.94,48.46 281.62,48.25 282.30,48.04 282.98,47.84 283.66,47.64 284.34,47.43 285.02,47.23 285.70,47.04 286.38,46.84 287.06,46.64 287.74,46.45 288.42,46.25 289.10,46.06 289.78,45.87 290.47,45.68 291.15,45.49 291.83,45.30 292.51,45.11 293.20,44.92 293.88,44.74 294.56,44.55 295.25,44.37 295.93,44.19 296.61,44.00 297.30,43.82 297.98,43.64 298.67,43.46 299.35,43.29 300.04,43.11 300.72,42.93 301.40,42.76 302.09,42.58 302.77,42.40 303.46,42.23 304.14,42.06 304.83,41.88 305.51,41.71 306.20,41.54 306.88,41.37 307.57,41.20 308.25,41.03 308.94,40.86 309.63,40.69 310.31,40.52 311.00,40.35" fill="none" stroke="#ff00ff" stroke-width="1.8" stroke-linejoin="round"/>
<polyline clip-path="url(#ca)" points="51.50,40.14 51.87,40.20 52.24,40.27 52.61,40.33 52.98,40.39 53.35,40.46 53.72,40.52 54.09,40.59 54.46,40.66 54.82,40.72 55.19,40.79 55.56,40.85 55.93,40.92 56.30,40.99 56.67,41.06 57.04,41.12 57.41,41.19 57.78,41.26 58.15,41.33 58.52,41.40 58.89,41.47 59.26,41.54 59.63,41.61 60.00,41.68 60.37,41.75 60.73,41.82 61.10,41.89 61.47,41.96 61.84,42.03 62.21,42.10 62.58,42.17 62.95,42.25 63.32,42.32 63.69,42.39 64.06,42.47 64.43,42.54 64.80,42.61 65.17,42.69 65.54,42.76 65.91,42.84 66.28,42.91 66.64,42.99 67.01,43.06 67.38,43.14 67.75,43.22 68.12,43.29 68.49,43.37 68.86,43.45 69.23,43.53 69.60,43.60 69.97,43.68 70.34,43.76 70.71,43.84 71.08,43.92 71.45,44.00 71.82,44.08 72.19,44.16 72.55,44.24 72.92,44.32 73.29,44.41 73.66,44.49 74.03,44.57 74.40,44.65 74.77,44.74 75.14,44.82 75.51,44.91 75.88,44.99 76.25,45.07 76.62,45.16 76.99,45.25 77.36,45.33 77.73,45.42 78.10,45.51 78.47,45.59 78.83,45.68 79.20,45.77 79.57,45.86 79.94,45.95 80.31,46.03 80.68,46.12 81.05,46.21 81.42,46.30 81.79,46.40 82.16,46.49 82.53,46.58 82.90,46.67 83.27,46.76 83.64,46.86 84.01,46.95 84.38,47.04 84.74,47.14 85.11,47.23 85.48,47.33 85.85,47.42 86.22,47.52 86.59,47.62 86.96,47.71 87.33,47.81 87.70,47.91 88.07,48.01 88.44,48.11 88.81,48.21 89.18,48.31 89.55,48.41 89.92,48.51 90.29,48.61 90.65,48.71 91.02,48.81 91.39,48.92 91.76,49.02 92.13,49.13 92.50,49.23 92.87,49.33 93.24,49.44 93.61,49.55 93.98,49.65 94.35,49.76 94.72,49.87 95.09,49.98 95.46,50.08 95.83,50.19 96.20,50.30 96.56,50.41 96.93,50.52 97.30,50.64 97.67,50.75 98.04,50.86 98.41,50.97 98.78,51.09 99.15,51.20 99.52,51.32 99.89,51.43 100.26,51.55 100.63,51.66 101.00,51.78 101.37,51.90 101.74,52.02 102.11,52.14 102.48,52.26 102.84,52.38 103.21,52.50 103.58,52.62 103.95,52.74 104.32,52.86 104.69,52.99 105.06,53.11 105.43,53.24 105.80,53.36 106.17,53.49 106.54,53.62 106.91,53.74 107.28,53.87 107.65,54.00 108.02,54.13 108.39,54.26 108.75,54.39 109.12,54.52 109.49,54.65 109.86,54.79 110.23,54.92 110.60,55.05 110.97,55.19 111.34,55.32 111.71,55.46 112.08,55.60 112.45,55.74 112.82,55.88 113.19,56.01 113.56,56.15 113.93,56.30 114.30,56.44 114.66,56.58 115.03,56.72 115.40,56.87 115.77,57.01 116.14,57.16 116.51,57.30 116.88,57.45 117.25,57.60 117.62,57.75 117.99,57.90 118.36,58.05 118.73,58.20 119.10,58.35 119.47,58.51 119.84,58.66 120.21,58.81 120.57,58.97 120.94,59.13 121.31,59.28 121.68,59.44 122.05,59.60 122.42,59.76 122.79,59.92 123.16,60.08 123.53,60.25 123.90,60.41 124.27,60.58 124.64,60.74 125.01,60.91 125.38,61.08 125.75,61.24 126.12,61.41 126.49,61.58 126.85,61.76 127.22,61.93 127.59,62.10 127.96,62.28 128.33,62.45 128.70,62.63 129.07,62.80 129.44,62.98 129.81,63.16 130.18,63.34 130.55,63.52 130.92,63.71 131.29,63.89 131.66,64.08 132.03,64.26 132.40,64.45 132.76,64.64 133.13,64.83 133.50,65.02 133.87,65.21 134.24,65.40 134.61,65.59 134.98,65.79 135.35,65.99 135.72,66.18 136.09,66.38 136.46,66.58 136.83,66.78 137.20,66.98 137.57,67.19 137.94,67.39 138.31,67.60 138.67,67.80 139.04,68.01 139.41,68.22 139.78,68.43 140.15,68.64 140.52,68.85 140.89,69.07 141.26,69.28 141.63,69.50 142.00,69.72 142.37,69.94 142.74,70.16 143.11,70.38 143.48,70.61 143.85,70.83 144.22,71.06 144.58,71.28 144.95,71.51 145.32,71.74 145.69,71.98 146.06,72.21 146.43,72.44 146.80,72.68 147.17,72.92 147.54,73.16 147.91,73.40 148.28,73.64 148.65,73.88 149.02,74.13 149.39,74.37 149.76,74.62 150.13,74.87 150.50,75.12 150.86,75.37 151.23,75.62 151.60,75.88 151.97,76.14 152.34,76.39 152.71,76.65 153.08,76.92 153.45,77.18 153.82,77.44 154.19,77.71 154.56,77.98 154.93,78.25 155.30,78.52 155.67,78.79 156.04,79.06 156.41,79.34 156.77,79.62 157.14,79.90 157.51,80.18 157.88,80.46 158.25,80.74 158.62,81.03 158.99,81.32 159.36,81.61 159.73,81.90 160.10,82.19 160.47,82.48 160.84,82.78 161.21,83.08 161.58,83.37 161.95,83.67 162.32,83.98 162.68,84.28 163.05,84.59 163.42,84.89 163.79,85.20 164.16,85.51 164.53,85.83 164.90,86.14 165.27,86.46 165.64,86.77 166.01,87.09 166.38,87.41 166.75,87.74 167.12,88.06 167.49,88.39 167.86,88.71 168.23,89.04 168.59,89.37 168.96,89.71 169.33,90.04 169.70,90.37 170.07,90.71 170.44,91.05 170.81,91.39 171.18,91.73 171.55,92.07 171.92,92.42 172.29,92.76 172.66,93.11 173.03,93.46 173.40,93.80 173.77,94.16 174.14,94.51 174.51,94.86 174.87,95.21 175.24,95.57 175.61,95.92 175.98,96.28 176.35,96.64 176.72,97.00 177.09,97.35 177.46,97.71 177.83,98.07 178.20,98.43 178.57,98.79 178.94,99.16 179.31,99.52 179.68,99.88 180.05,100.24 180.42,100.60 180.78,100.96 181.15,101.32 181.52,101.68 181.89,102.04 182.26,102.39 182.63,102.75 183.00,103.10 183.37,103.45 183.74,103.80 184.11,104.15 184.48,104.50 184.85,104.84 185.22,105.18 185.59,105.51 185.96,105.84 186.33,106.17 186.69,106.49 187.06,106.81 187.43,107.12 187.80,107.42 188.17,107.72 188.54,108.01 188.91,108.29 189.28,108.57 189.65,108.83 190.02,109.08 190.39,109.32 190.76,109.55 191.13,109.77 191.50,109.97 191.87,110.16 192.24,110.34 192.61,110.49 192.97,110.63 193.34,110.76 193.71,110.86 194.08,110.95 194.45,111.01 194.82,111.06 195.19,111.08 195.42,111.09 195.56,111.09 195.93,111.07 196.30,111.03 196.67,110.98 197.04,110.90 197.41,110.81 197.78,110.69 198.15,110.56 198.52,110.41 198.88,110.25 199.25,110.07 199.62,109.87 199.99,109.66 200.36,109.44 200.73,109.20 201.10,108.96 201.47,108.70 201.84,108.44 202.21,108.16 202.58,107.88 202.95,107.59 203.32,107.29 203.69,106.98 204.06,106.67 204.43,106.35 204.79,106.03 205.16,105.71 205.53,105.38 205.90,105.04 206.27,104.70 206.64,104.36 207.01,104.02 207.38,103.67 207.75,103.33 208.12,102.98 208.49,102.63 208.86,102.27 209.23,101.92 209.60,101.56 209.97,101.21 210.34,100.85 210.70,100.49 211.07,100.14 211.44,99.78 211.81,99.42 212.18,99.06 212.55,98.71 212.92,98.35 213.29,97.99 213.66,97.63 214.03,97.28 214.40,96.92 214.77,96.57 215.14,96.22 215.51,95.86 215.88,95.51 216.25,95.16 216.62,94.81 216.98,94.46 217.35,94.11 217.72,93.77 218.09,93.42 218.46,93.08 218.83,92.73 219.20,92.39 219.57,92.05 219.94,91.71 220.31,91.38 220.68,91.04 221.05,90.71 221.42,90.37 221.79,90.04 222.16,89.71 222.53,89.38 222.89,89.06 223.26,88.73 223.63,88.41 224.00,88.08 224.37,87.76 224.74,87.44 225.11,87.13 225.48,86.81 225.85,86.50 226.22,86.19 226.59,85.87 226.96,85.57 227.33,85.26 227.70,84.95 228.07,84.65 228.44,84.35 228.80,84.05 229.17,83.75 229.54,83.45 229.91,83.15 230.28,82.86 230.65,82.57 231.02,82.28 231.39,81.99 231.76,81.70 232.13,81.41 232.50,81.13 232.87,80.85 233.24,80.57 233.61,80.29 233.98,80.01 234.35,79.73 234.71,79.46 235.08,79.19 235.45,78.91 235.82,78.64 236.19,78.38 236.56,78.11 236.93,77.85 237.30,77.58 237.67,77.32 238.04,77.06 238.41,76.80 238.78,76.54 239.15,76.29 239.52,76.03 239.89,75.78 240.26,75.53 240.63,75.28 240.99,75.03 241.36,74.79 241.73,74.54 242.10,74.30 242.47,74.06 242.84,73.82 243.21,73.58 243.58,73.34 243.95,73.10 244.32,72.87 244.69,72.63 245.06,72.40 245.43,72.17 245.80,71.94 246.17,71.71 246.54,71.49 246.90,71.26 247.27,71.04 247.64,70.81 248.01,70.59 248.38,70.37 248.75,70.15 249.12,69.94 249.49,69.72 249.86,69.51 250.23,69.29 250.60,69.08 250.97,68.87 251.34,68.66 251.71,68.45 252.08,68.24 252.45,68.04 252.81,67.83 253.18,67.63 253.55,67.43 253.92,67.23 254.29,67.03 254.66,66.83 255.03,66.63 255.40,66.43 255.77,66.24 256.14,66.04 256.51,65.85 256.88,65.66 257.25,65.47 257.62,65.28 257.99,65.09 258.36,64.90 258.72,64.72 259.09,64.53 259.46,64.35 259.83,64.16 260.20,63.98 260.57,63.80 260.94,63.62 261.31,63.44 261.68,63.26 262.05,63.09 262.42,62.91 262.79,62.74 263.16,62.56 263.53,62.39 263.90,62.22 264.27,62.05 264.64,61.88 265.00,61.71 265.37,61.54 265.74,61.37 266.11,61.21 266.48,61.04 266.85,60.88 267.22,60.72 267.59,60.55 267.96,60.39 268.33,60.23 268.70,60.07 269.07,59.91 269.44,59.76 269.81,59.60 270.18,59.44 270.55,59.29 270.91,59.13 271.28,58.98 271.65,58.83 272.02,58.67 272.39,58.52 272.76,58.37 273.13,58.22 273.50,58.08 273.87,57.93 274.24,57.78 274.61,57.64 274.98,57.49 275.35,57.35 275.72,57.20 276.09,57.06 276.46,56.92 276.82,56.78 277.19,56.64 277.56,56.50 277.93,56.36 278.30,56.22 278.67,56.08 279.04,55.94 279.41,55.81 279.78,55.67 280.15,55.54 280.52,55.40 280.89,55.27 281.26,55.14 281.63,55.01 282.00,54.87 282.37,54.74 282.73,54.61 283.10,54.49 283.47,54.36 283.84,54.23 284.21,54.10 284.58,53.98 284.95,53.85 285.32,53.73 285.69,53.60 286.06,53.48 286.43,53.35 286.80,53.23 287.17,53.11 287.54,52.99 287.91,52.87 288.28,52.75 288.65,52.63 289.01,52.51 289.38,52.39 289.75,52.27 290.12,52.16 290.49,52.04 290.86,51.92 291.23,51.81 291.60,51.69 291.97,51.58 292.34,51.47 292.71,51.35 293.08,51.24 293.45,51.13 293.82,51.02 294.19,50.91 294.56,50.80 294.92,50.69 295.29,50.58 295.66,50.47 296.03,50.36 296.40,50.26 296.77,50.15 297.14,50.04 297.51,49.94 297.88,49.83 298.25,49.73 298.62,49.62 298.99,49.52 299.36,49.42 299.73,49.31 300.10,49.21 300.47,49.11 300.83,49.01 301.20,48.91 301.57,48.81 301.94,48.71 302.31,48.61 302.68,48.51 303.05,48.41 303.42,48.31 303.79,48.22 304.16,48.12 304.53,48.02 304.90,47.93 305.27,47.83 305.64,47.74 306.01,47.64 306.38,47.55 306.74,47.45 307.11,47.36 307.48,47.27 307.85,47.17 308.22,47.08 308.59,46.99 308.96,46.90 309.33,46.81 309.70,46.72" fill="none" stroke="#008000" stroke-width="1.8" stroke-linejoin="round"/>
<rect x="51.3" y="13.3" width="258.60" height="208.2" fill="none" stroke="#111" stroke-width="1.8"/>
<line x1="88.24" y1="221.5" x2="88.24" y2="217.0" stroke="#000" stroke-width="1.7"/>
<line x1="143.66" y1="221.5" x2="143.66" y2="217.0" stroke="#000" stroke-width="1.7"/>
<line x1="199.07" y1="221.5" x2="199.07" y2="217.0" stroke="#000" stroke-width="1.7"/>
<line x1="254.49" y1="221.5" x2="254.49" y2="217.0" stroke="#000" stroke-width="1.7"/>
<line x1="60.54" y1="221.5" x2="60.54" y2="219.0" stroke="#000" stroke-width="1.7"/>
<line x1="115.95" y1="221.5" x2="115.95" y2="219.0" stroke="#000" stroke-width="1.7"/>
<line x1="171.36" y1="221.5" x2="171.36" y2="219.0" stroke="#000" stroke-width="1.7"/>
<line x1="226.78" y1="221.5" x2="226.78" y2="219.0" stroke="#000" stroke-width="1.7"/>
<line x1="282.19" y1="221.5" x2="282.19" y2="219.0" stroke="#000" stroke-width="1.7"/>
<line x1="51.3" y1="13.00" x2="55.8" y2="13.00" stroke="#000" stroke-width="1.7"/>
<line x1="51.3" y1="50.82" x2="55.8" y2="50.82" stroke="#000" stroke-width="1.7"/>
<line x1="51.3" y1="88.64" x2="55.8" y2="88.64" stroke="#000" stroke-width="1.7"/>
<line x1="51.3" y1="126.45" x2="55.8" y2="126.45" stroke="#000" stroke-width="1.7"/>
<line x1="51.3" y1="164.27" x2="55.8" y2="164.27" stroke="#000" stroke-width="1.7"/>
<line x1="51.3" y1="202.09" x2="55.8" y2="202.09" stroke="#000" stroke-width="1.7"/>
<line x1="51.3" y1="31.91" x2="53.8" y2="31.91" stroke="#000" stroke-width="1.7"/>
<line x1="51.3" y1="69.73" x2="53.8" y2="69.73" stroke="#000" stroke-width="1.7"/>
<line x1="51.3" y1="107.55" x2="53.8" y2="107.55" stroke="#000" stroke-width="1.7"/>
<line x1="51.3" y1="145.36" x2="53.8" y2="145.36" stroke="#000" stroke-width="1.7"/>
<line x1="51.3" y1="183.18" x2="53.8" y2="183.18" stroke="#000" stroke-width="1.7"/>
<line x1="51.3" y1="221.00" x2="53.8" y2="221.00" stroke="#000" stroke-width="1.7"/>
<text x="88.24" y="234.8" class="tk" text-anchor="middle" textLength="35.5" lengthAdjust="spacingAndGlyphs">1552.2</text>
<text x="143.66" y="234.8" class="tk" text-anchor="middle" textLength="35.5" lengthAdjust="spacingAndGlyphs">1552.5</text>
<text x="199.07" y="234.8" class="tk" text-anchor="middle" textLength="35.5" lengthAdjust="spacingAndGlyphs">1552.8</text>
<text x="254.49" y="234.8" class="tk" text-anchor="middle" textLength="35.5" lengthAdjust="spacingAndGlyphs">1553.1</text>
<text x="309.90" y="234.8" class="tk" text-anchor="middle" textLength="35.5" lengthAdjust="spacingAndGlyphs">1553.4</text>
<text x="40.25" y="17.40" class="tk" textLength="6.45" lengthAdjust="spacingAndGlyphs">0</text>
<text x="29.94" y="55.22" class="tk" textLength="16.76" lengthAdjust="spacingAndGlyphs"><tspan dy="-0.4">-</tspan><tspan dy="0.4">20</tspan></text>
<text x="29.94" y="93.04" class="tk" textLength="16.76" lengthAdjust="spacingAndGlyphs"><tspan dy="-0.4">-</tspan><tspan dy="0.4">40</tspan></text>
<text x="29.94" y="130.85" class="tk" textLength="16.76" lengthAdjust="spacingAndGlyphs"><tspan dy="-0.4">-</tspan><tspan dy="0.4">60</tspan></text>
<text x="29.94" y="168.67" class="tk" textLength="16.76" lengthAdjust="spacingAndGlyphs"><tspan dy="-0.4">-</tspan><tspan dy="0.4">80</tspan></text>
<text x="23.47" y="206.49" class="tk" textLength="23.23" lengthAdjust="spacingAndGlyphs"><tspan dy="-0.4">-</tspan><tspan dy="0.4">100</tspan></text>
<polyline clip-path="url(#cb)" points="382.50,65.33 382.87,65.49 383.24,65.65 383.61,65.82 383.97,65.98 384.34,66.14 384.71,66.30 385.08,66.47 385.45,66.63 385.82,66.79 386.19,66.96 386.56,67.12 386.92,67.28 387.29,67.44 387.66,67.61 388.03,67.77 388.40,67.93 388.77,68.10 389.14,68.26 389.50,68.42 389.87,68.58 390.24,68.75 390.61,68.91 390.98,69.08 391.35,69.24 391.72,69.40 392.09,69.57 392.45,69.73 392.82,69.90 393.19,70.06 393.56,70.23 393.93,70.39 394.30,70.56 394.67,70.72 395.03,70.89 395.40,71.06 395.77,71.22 396.14,71.39 396.51,71.56 396.88,71.72 397.25,71.89 397.62,72.06 397.98,72.23 398.35,72.40 398.72,72.57 399.09,72.74 399.46,72.91 399.83,73.08 400.20,73.25 400.56,73.42 400.93,73.59 401.30,73.76 401.67,73.94 402.04,74.11 402.41,74.28 402.78,74.46 403.15,74.63 403.51,74.81 403.88,74.98 404.25,75.16 404.62,75.33 404.99,75.51 405.36,75.69 405.73,75.87 406.09,76.04 406.46,76.22 406.83,76.40 407.20,76.58 407.57,76.76 407.94,76.95 408.31,77.13 408.68,77.31 409.04,77.49 409.41,77.68 409.78,77.86 410.15,78.05 410.52,78.23 410.89,78.42 411.26,78.61 411.62,78.79 411.99,78.98 412.36,79.17 412.73,79.36 413.10,79.55 413.47,79.74 413.84,79.94 414.21,80.13 414.57,80.32 414.94,80.52 415.31,80.71 415.68,80.91 416.05,81.10 416.42,81.30 416.79,81.50 417.15,81.70 417.52,81.90 417.89,82.10 418.26,82.30 418.63,82.50 419.00,82.70 419.37,82.91 419.74,83.11 420.10,83.32 420.47,83.52 420.84,83.73 421.21,83.94 421.58,84.15 421.95,84.36 422.32,84.57 422.68,84.78 423.05,84.99 423.42,85.21 423.79,85.42 424.16,85.64 424.53,85.85 424.90,86.07 425.27,86.29 425.63,86.51 426.00,86.73 426.37,86.95 426.74,87.17 427.11,87.40 427.48,87.62 427.85,87.85 428.22,88.07 428.58,88.30 428.95,88.53 429.32,88.76 429.69,88.99 430.06,89.22 430.43,89.46 430.80,89.69 431.16,89.93 431.53,90.16 431.90,90.40 432.27,90.64 432.64,90.88 433.01,91.12 433.38,91.36 433.75,91.60 434.11,91.85 434.48,92.09 434.85,92.34 435.22,92.59 435.59,92.84 435.96,93.09 436.33,93.34 436.69,93.60 437.06,93.85 437.43,94.11 437.80,94.36 438.17,94.62 438.54,94.88 438.91,95.14 439.28,95.40 439.64,95.67 440.01,95.93 440.38,96.20 440.75,96.47 441.12,96.74 441.49,97.01 441.86,97.28 442.22,97.55 442.59,97.83 442.96,98.10 443.33,98.38 443.70,98.66 444.07,98.94 444.44,99.22 444.81,99.50 445.17,99.79 445.54,100.08 445.91,100.36 446.28,100.65 446.65,100.95 447.02,101.24 447.39,101.53 447.75,101.83 448.12,102.13 448.49,102.43 448.86,102.73 449.23,103.03 449.60,103.33 449.97,103.64 450.34,103.95 450.70,104.25 451.07,104.57 451.44,104.88 451.81,105.19 452.18,105.51 452.55,105.83 452.92,106.15 453.28,106.47 453.65,106.79 454.02,107.11 454.39,107.44 454.76,107.77 455.13,108.10 455.50,108.43 455.87,108.77 456.23,109.10 456.60,109.44 456.97,109.78 457.34,110.12 457.71,110.47 458.08,110.81 458.45,111.16 458.81,111.51 459.18,111.86 459.55,112.21 459.92,112.57 460.29,112.93 460.66,113.29 461.03,113.65 461.40,114.01 461.76,114.38 462.13,114.75 462.50,115.12 462.87,115.49 463.24,115.86 463.61,116.24 463.98,116.62 464.34,117.00 464.71,117.38 465.08,117.77 465.45,118.16 465.82,118.55 466.19,118.94 466.56,119.34 466.93,119.73 467.29,120.13 467.66,120.53 468.03,120.94 468.40,121.34 468.77,121.75 469.14,122.17 469.51,122.58 469.87,123.00 470.24,123.41 470.61,123.84 470.98,124.26 471.35,124.69 471.72,125.12 472.09,125.55 472.46,125.98 472.82,126.42 473.19,126.86 473.56,127.30 473.93,127.74 474.30,128.19 474.67,128.64 475.04,129.09 475.40,129.55 475.77,130.01 476.14,130.47 476.51,130.93 476.88,131.40 477.25,131.87 477.62,132.34 477.99,132.82 478.35,133.29 478.72,133.78 479.09,134.26 479.46,134.75 479.83,135.24 480.20,135.73 480.57,136.22 480.93,136.72 481.30,137.22 481.67,137.73 482.04,138.24 482.41,138.75 482.78,139.26 483.15,139.78 483.52,140.30 483.88,140.82 484.25,141.35 484.62,141.88 484.99,142.41 485.36,142.94 485.73,143.48 486.10,144.02 486.46,144.57 486.83,145.12 487.20,145.67 487.57,146.22 487.94,146.78 488.31,147.34 488.68,147.91 489.05,148.48 489.41,149.05 489.78,149.62 490.15,150.20 490.52,150.78 490.89,151.37 491.26,151.96 491.63,152.55 491.99,153.14 492.36,153.74 492.73,154.34 493.10,154.95 493.47,155.56 493.84,156.17 494.21,156.78 494.58,157.40 494.94,158.02 495.31,158.65 495.68,159.28 496.05,159.91 496.42,160.54 496.79,161.18 497.16,161.82 497.52,162.47 497.89,163.12 498.26,163.77 498.63,164.42 499.00,165.08 499.37,165.74 499.74,166.41 500.11,167.07 500.47,167.74 500.84,168.42 501.21,169.09 501.58,169.77 501.95,170.45 502.32,171.14 502.69,171.83 503.05,172.52 503.42,173.21 503.79,173.91 504.16,174.61 504.53,175.31 504.90,176.01 505.27,176.71 505.64,177.42 506.00,178.13 506.37,178.84 506.74,179.56 507.11,180.27 507.48,180.99 507.85,181.71 508.22,182.42 508.58,183.14 508.95,183.87 509.32,184.59 509.69,185.31 510.06,186.03 510.43,186.75 510.80,187.47 511.17,188.20 511.53,188.92 511.90,189.63 512.27,190.35 512.64,191.07 513.01,191.78 513.38,192.49 513.75,193.20 514.12,193.90 514.48,194.60 514.85,195.30 515.22,195.99 515.59,196.67 515.96,197.35 516.33,198.02 516.70,198.68 517.06,199.34 517.43,199.98 517.80,200.61 518.17,201.24 518.54,201.84 518.91,202.44 519.28,203.02 519.65,203.58 520.01,204.13 520.38,204.65 520.75,205.16 521.12,205.64 521.49,206.10 521.86,206.54 522.23,206.94 522.59,207.32 522.96,207.67 523.33,207.98 523.70,208.27 524.07,208.51 524.44,208.72 524.81,208.89 525.18,209.02 525.54,209.11 525.91,209.16 526.14,209.17 526.28,209.17 526.65,209.14 527.02,209.07 527.39,208.96 527.76,208.80 528.12,208.61 528.49,208.39 528.86,208.12 529.23,207.82 529.60,207.49 529.97,207.13 530.34,206.74 530.71,206.32 531.07,205.88 531.44,205.41 531.81,204.92 532.18,204.40 532.55,203.87 532.92,203.32 533.29,202.75 533.65,202.17 534.02,201.57 534.39,200.96 534.76,200.34 535.13,199.71 535.50,199.06 535.87,198.41 536.24,197.75 536.60,197.08 536.97,196.41 537.34,195.73 537.71,195.04 538.08,194.35 538.45,193.65 538.82,192.95 539.18,192.25 539.55,191.54 539.92,190.84 540.29,190.13 540.66,189.41 541.03,188.70 541.40,187.99 541.77,187.27 542.13,186.56 542.50,185.84 542.87,185.13 543.24,184.41 543.61,183.70 543.98,182.98 544.35,182.27 544.71,181.56 545.08,180.85 545.45,180.14 545.82,179.43 546.19,178.72 546.56,178.02 546.93,177.32 547.30,176.62 547.66,175.92 548.03,175.22 548.40,174.53 548.77,173.84 549.14,173.15 549.51,172.47 549.88,171.78 550.24,171.10 550.61,170.43 550.98,169.75 551.35,169.08 551.72,168.41 552.09,167.74 552.46,167.08 552.83,166.42 553.19,165.76 553.56,165.11 553.93,164.46 554.30,163.81 554.67,163.17 555.04,162.53 555.41,161.89 555.77,161.25 556.14,160.62 556.51,160.00 556.88,159.37 557.25,158.75 557.62,158.13 557.99,157.52 558.36,156.90 558.72,156.30 559.09,155.69 559.46,155.09 559.83,154.49 560.20,153.90 560.57,153.31 560.94,152.72 561.30,152.13 561.67,151.55 562.04,150.97 562.41,150.40 562.78,149.83 563.15,149.26 563.52,148.69 563.89,148.13 564.25,147.57 564.62,147.02 564.99,146.47 565.36,145.92 565.73,145.37 566.10,144.83 566.47,144.29 566.83,143.75 567.20,143.22 567.57,142.69 567.94,142.16 568.31,141.64 568.68,141.12 569.05,140.60 569.42,140.09 569.78,139.58 570.15,139.07 570.52,138.56 570.89,138.06 571.26,137.56 571.63,137.07 572.00,136.57 572.36,136.08 572.73,135.60 573.10,135.11 573.47,134.63 573.84,134.15 574.21,133.68 574.58,133.20 574.95,132.73 575.31,132.27 575.68,131.80 576.05,131.34 576.42,130.88 576.79,130.43 577.16,129.97 577.53,129.52 577.89,129.07 578.26,128.63 578.63,128.19 579.00,127.75 579.37,127.31 579.74,126.87 580.11,126.44 580.48,126.01 580.84,125.59 581.21,125.16 581.58,124.74 581.95,124.32 582.32,123.90 582.69,123.49 583.06,123.08 583.42,122.67 583.79,122.26 584.16,121.86 584.53,121.45 584.90,121.05 585.27,120.66 585.64,120.26 586.01,119.87 586.37,119.48 586.74,119.09 587.11,118.70 587.48,118.32 587.85,117.94 588.22,117.56 588.59,117.18 588.95,116.81 589.32,116.43 589.69,116.06 590.06,115.70 590.43,115.33 590.80,114.97 591.17,114.60 591.54,114.24 591.90,113.89 592.27,113.53 592.64,113.18 593.01,112.82 593.38,112.47 593.75,112.13 594.12,111.78 594.48,111.44 594.85,111.10 595.22,110.76 595.59,110.42 595.96,110.08 596.33,109.75 596.70,109.42 597.07,109.09 597.43,108.76 597.80,108.43 598.17,108.11 598.54,107.78 598.91,107.46 599.28,107.14 599.65,106.83 600.02,106.51 600.38,106.20 600.75,105.88 601.12,105.57 601.49,105.27 601.86,104.96 602.23,104.65 602.60,104.35 602.96,104.05 603.33,103.75 603.70,103.45 604.07,103.15 604.44,102.86 604.81,102.56 605.18,102.27 605.55,101.98 605.91,101.69 606.28,101.40 606.65,101.12 607.02,100.83 607.39,100.55 607.76,100.27 608.13,99.99 608.49,99.71 608.86,99.44 609.23,99.16 609.60,98.89 609.97,98.62 610.34,98.34 610.71,98.07 611.08,97.81 611.44,97.54 611.81,97.28 612.18,97.01 612.55,96.75 612.92,96.49 613.29,96.23 613.66,95.97 614.02,95.71 614.39,95.46 614.76,95.20 615.13,94.95 615.50,94.70 615.87,94.45 616.24,94.20 616.61,93.95 616.97,93.71 617.34,93.46 617.71,93.22 618.08,92.98 618.45,92.74 618.82,92.50 619.19,92.26 619.55,92.02 619.92,91.78 620.29,91.55 620.66,91.31 621.03,91.08 621.40,90.85 621.77,90.62 622.14,90.39 622.50,90.16 622.87,89.93 623.24,89.71 623.61,89.48 623.98,89.26 624.35,89.04 624.72,88.82 625.08,88.60 625.45,88.38 625.82,88.16 626.19,87.94 626.56,87.73 626.93,87.51 627.30,87.30 627.67,87.09 628.03,86.87 628.40,86.66 628.77,86.45 629.14,86.25 629.51,86.04 629.88,85.83 630.25,85.63 630.61,85.42 630.98,85.22 631.35,85.02 631.72,84.81 632.09,84.61 632.46,84.41 632.83,84.22 633.20,84.02 633.56,83.82 633.93,83.63 634.30,83.43 634.67,83.24 635.04,83.04 635.41,82.85 635.78,82.66 636.14,82.47 636.51,82.28 636.88,82.09 637.25,81.90 637.62,81.72 637.99,81.53 638.36,81.35 638.73,81.16 639.09,80.98 639.46,80.80 639.83,80.62 640.20,80.43" fill="none" stroke="#008000" stroke-width="1.8" stroke-linejoin="round"/>
<polyline clip-path="url(#cb)" points="382.50,84.64 382.87,84.82 383.24,85.00 383.61,85.19 383.97,85.37 384.34,85.56 384.71,85.75 385.08,85.93 385.45,86.12 385.82,86.31 386.19,86.50 386.56,86.69 386.92,86.89 387.29,87.08 387.66,87.27 388.03,87.47 388.40,87.66 388.77,87.86 389.14,88.06 389.50,88.26 389.87,88.45 390.24,88.65 390.61,88.86 390.98,89.06 391.35,89.26 391.72,89.46 392.09,89.67 392.45,89.87 392.82,90.08 393.19,90.29 393.56,90.50 393.93,90.71 394.30,90.92 394.67,91.13 395.03,91.34 395.40,91.55 395.77,91.77 396.14,91.98 396.51,92.20 396.88,92.42 397.25,92.64 397.62,92.86 397.98,93.08 398.35,93.30 398.72,93.52 399.09,93.74 399.46,93.97 399.83,94.19 400.20,94.42 400.56,94.65 400.93,94.88 401.30,95.11 401.67,95.34 402.04,95.57 402.41,95.80 402.78,96.04 403.15,96.27 403.51,96.51 403.88,96.75 404.25,96.99 404.62,97.23 404.99,97.47 405.36,97.71 405.73,97.95 406.09,98.20 406.46,98.44 406.83,98.69 407.20,98.93 407.57,99.18 407.94,99.43 408.31,99.68 408.68,99.94 409.04,100.19 409.41,100.44 409.78,100.70 410.15,100.96 410.52,101.22 410.89,101.47 411.26,101.74 411.62,102.00 411.99,102.26 412.36,102.52 412.73,102.79 413.10,103.06 413.47,103.32 413.84,103.59 414.21,103.86 414.57,104.14 414.94,104.41 415.31,104.68 415.68,104.96 416.05,105.23 416.42,105.51 416.79,105.79 417.15,106.07 417.52,106.35 417.89,106.64 418.26,106.92 418.63,107.21 419.00,107.49 419.37,107.78 419.74,108.07 420.10,108.36 420.47,108.65 420.84,108.95 421.21,109.24 421.58,109.54 421.95,109.83 422.32,110.13 422.68,110.43 423.05,110.73 423.42,111.04 423.79,111.34 424.16,111.65 424.53,111.95 424.90,112.26 425.27,112.57 425.63,112.88 426.00,113.19 426.37,113.51 426.74,113.82 427.11,114.14 427.48,114.45 427.85,114.77 428.22,115.09 428.58,115.41 428.95,115.74 429.32,116.06 429.69,116.39 430.06,116.71 430.43,117.04 430.80,117.37 431.16,117.70 431.53,118.03 431.90,118.37 432.27,118.70 432.64,119.04 433.01,119.38 433.38,119.72 433.75,120.06 434.11,120.40 434.48,120.74 434.85,121.09 435.22,121.43 435.59,121.78 435.96,122.13 436.33,122.48 436.69,122.83 437.06,123.18 437.43,123.53 437.80,123.89 438.17,124.24 438.54,124.60 438.91,124.96 439.28,125.32 439.64,125.68 440.01,126.04 440.38,126.41 440.75,126.77 441.12,127.14 441.49,127.50 441.86,127.87 442.22,128.24 442.59,128.61 442.96,128.98 443.33,129.36 443.70,129.73 444.07,130.11 444.44,130.48 444.81,130.86 445.17,131.24 445.54,131.62 445.91,132.00 446.28,132.38 446.65,132.76 447.02,133.15 447.39,133.53 447.75,133.92 448.12,134.30 448.49,134.69 448.86,135.08 449.23,135.47 449.60,135.86 449.97,136.25 450.34,136.64 450.70,137.03 451.07,137.42 451.44,137.82 451.81,138.21 452.18,138.60 452.55,139.00 452.92,139.40 453.28,139.79 453.65,140.19 454.02,140.59 454.39,140.98 454.76,141.38 455.13,141.78 455.50,142.18 455.87,142.58 456.23,142.98 456.60,143.38 456.97,143.77 457.34,144.17 457.71,144.57 458.08,144.97 458.45,145.37 458.81,145.77 459.18,146.17 459.55,146.57 459.92,146.97 460.29,147.37 460.66,147.76 461.03,148.16 461.40,148.56 461.76,148.95 462.13,149.35 462.50,149.74 462.87,150.14 463.24,150.53 463.61,150.92 463.98,151.31 464.34,151.70 464.71,152.09 465.08,152.48 465.45,152.87 465.82,153.25 466.19,153.63 466.56,154.02 466.93,154.40 467.29,154.77 467.66,155.15 468.03,155.52 468.40,155.90 468.77,156.27 469.14,156.63 469.51,157.00 469.87,157.36 470.24,157.72 470.61,158.08 470.98,158.43 471.35,158.79 471.72,159.13 472.09,159.48 472.46,159.82 472.82,160.16 473.19,160.50 473.56,160.83 473.93,161.16 474.30,161.48 474.67,161.80 475.04,162.11 475.40,162.43 475.77,162.73 476.14,163.03 476.51,163.33 476.88,163.63 477.25,163.91 477.62,164.20 477.99,164.47 478.35,164.74 478.72,165.01 479.09,165.27 479.46,165.53 479.83,165.78 480.20,166.02 480.57,166.26 480.93,166.49 481.30,166.71 481.67,166.93 482.04,167.14 482.41,167.34 482.78,167.54 483.15,167.73 483.52,167.91 483.88,168.09 484.25,168.26 484.62,168.42 484.99,168.57 485.36,168.72 485.73,168.86 486.10,168.99 486.46,169.12 486.83,169.23 487.20,169.34 487.57,169.44 487.94,169.53 488.31,169.62 488.68,169.70 489.05,169.77 489.41,169.83 489.78,169.88 490.15,169.93 490.52,169.97 490.89,170.00 491.26,170.02 491.63,170.03 491.99,170.03 492.36,170.03 492.73,170.01 493.10,169.99 493.47,169.96 493.84,169.92 494.21,169.86 494.58,169.80 494.94,169.73 495.31,169.64 495.68,169.55 496.05,169.44 496.42,169.32 496.79,169.19 497.16,169.04 497.52,168.88 497.89,168.71 498.26,168.53 498.51,168.40 498.63,168.34 499.00,168.13 499.37,167.91 499.74,167.68 500.11,167.44 500.47,167.19 500.84,166.93 501.21,166.66 501.58,166.38 501.95,166.09 502.32,165.80 502.69,165.50 503.05,165.20 503.42,164.89 503.79,164.57 504.16,164.25 504.53,163.93 504.90,163.60 505.27,163.27 505.64,162.94 506.00,162.61 506.37,162.27 506.74,161.93 507.11,161.59 507.48,161.25 507.85,160.90 508.22,160.56 508.58,160.21 508.95,159.86 509.32,159.51 509.69,159.16 510.06,158.80 510.43,158.45 510.80,158.09 511.17,157.73 511.53,157.36 511.90,157.00 512.27,156.63 512.64,156.27 513.01,155.90 513.38,155.53 513.75,155.15 514.12,154.78 514.48,154.40 514.85,154.02 515.22,153.65 515.59,153.26 515.96,152.88 516.33,152.50 516.70,152.11 517.06,151.73 517.43,151.34 517.80,150.95 518.17,150.56 518.54,150.17 518.91,149.78 519.28,149.38 519.65,148.99 520.01,148.60 520.38,148.20 520.75,147.81 521.12,147.41 521.49,147.02 521.86,146.62 522.23,146.23 522.59,145.83 522.96,145.43 523.33,145.04 523.70,144.64 524.07,144.25 524.44,143.85 524.81,143.45 525.18,143.06 525.54,142.67 525.91,142.27 526.28,141.88 526.65,141.48 527.02,141.09 527.39,140.70 527.76,140.31 528.12,139.92 528.49,139.53 528.86,139.14 529.23,138.75 529.60,138.37 529.97,137.98 530.34,137.60 530.71,137.21 531.07,136.83 531.44,136.45 531.81,136.07 532.18,135.69 532.55,135.31 532.92,134.93 533.29,134.55 533.65,134.18 534.02,133.80 534.39,133.43 534.76,133.06 535.13,132.69 535.50,132.32 535.87,131.95 536.24,131.58 536.60,131.22 536.97,130.85 537.34,130.49 537.71,130.13 538.08,129.77 538.45,129.41 538.82,129.05 539.18,128.69 539.55,128.34 539.92,127.98 540.29,127.63 540.66,127.28 541.03,126.93 541.40,126.58 541.77,126.23 542.13,125.89 542.50,125.54 542.87,125.20 543.24,124.86 543.61,124.52 543.98,124.18 544.35,123.84 544.71,123.50 545.08,123.16 545.45,122.83 545.82,122.50 546.19,122.16 546.56,121.83 546.93,121.50 547.30,121.18 547.66,120.85 548.03,120.52 548.40,120.20 548.77,119.88 549.14,119.55 549.51,119.23 549.88,118.91 550.24,118.59 550.61,118.28 550.98,117.96 551.35,117.65 551.72,117.33 552.09,117.02 552.46,116.71 552.83,116.40 553.19,116.09 553.56,115.78 553.93,115.48 554.30,115.17 554.67,114.87 555.04,114.57 555.41,114.26 555.77,113.96 556.14,113.66 556.51,113.36 556.88,113.07 557.25,112.77 557.62,112.48 557.99,112.18 558.36,111.89 558.72,111.60 559.09,111.31 559.46,111.02 559.83,110.73 560.20,110.44 560.57,110.15 560.94,109.87 561.30,109.58 561.67,109.30 562.04,109.02 562.41,108.73 562.78,108.45 563.15,108.17 563.52,107.90 563.89,107.62 564.25,107.34 564.62,107.07 564.99,106.79 565.36,106.52 565.73,106.24 566.10,105.97 566.47,105.70 566.83,105.43 567.20,105.16 567.57,104.89 567.94,104.63 568.31,104.36 568.68,104.09 569.05,103.83 569.42,103.57 569.78,103.30 570.15,103.04 570.52,102.78 570.89,102.52 571.26,102.26 571.63,102.00 572.00,101.75 572.36,101.49 572.73,101.23 573.10,100.98 573.47,100.72 573.84,100.47 574.21,100.22 574.58,99.96 574.95,99.71 575.31,99.46 575.68,99.21 576.05,98.97 576.42,98.72 576.79,98.47 577.16,98.22 577.53,97.98 577.89,97.73 578.26,97.49 578.63,97.25 579.00,97.00 579.37,96.76 579.74,96.52 580.11,96.28 580.48,96.04 580.84,95.80 581.21,95.56 581.58,95.33 581.95,95.09 582.32,94.85 582.69,94.62 583.06,94.38 583.42,94.15 583.79,93.92 584.16,93.68 584.53,93.45 584.90,93.22 585.27,92.99 585.64,92.76 586.01,92.53 586.37,92.30 586.74,92.07 587.11,91.85 587.48,91.62 587.85,91.39 588.22,91.17 588.59,90.94 588.95,90.72 589.32,90.50 589.69,90.27 590.06,90.05 590.43,89.83 590.80,89.61 591.17,89.39 591.54,89.17 591.90,88.95 592.27,88.73 592.64,88.51 593.01,88.29 593.38,88.08 593.75,87.86 594.12,87.65 594.48,87.43 594.85,87.22 595.22,87.00 595.59,86.79 595.96,86.57 596.33,86.36 596.70,86.15 597.07,85.94 597.43,85.73 597.80,85.52 598.17,85.31 598.54,85.10 598.91,84.89 599.28,84.68 599.65,84.48 600.02,84.27 600.38,84.06 600.75,83.86 601.12,83.65 601.49,83.45 601.86,83.24 602.23,83.04 602.60,82.83 602.96,82.63 603.33,82.43 603.70,82.23 604.07,82.02 604.44,81.82 604.81,81.62 605.18,81.42 605.55,81.22 605.91,81.02 606.28,80.83 606.65,80.63 607.02,80.43 607.39,80.23 607.76,80.04 608.13,79.84 608.49,79.64 608.86,79.45 609.23,79.25 609.60,79.06 609.97,78.87 610.34,78.67 610.71,78.48 611.08,78.29 611.44,78.09 611.81,77.90 612.18,77.71 612.55,77.52 612.92,77.33 613.29,77.14 613.66,76.95 614.02,76.76 614.39,76.57 614.76,76.38 615.13,76.20 615.50,76.01 615.87,75.82 616.24,75.63 616.61,75.45 616.97,75.26 617.34,75.08 617.71,74.89 618.08,74.71 618.45,74.52 618.82,74.34 619.19,74.15 619.55,73.97 619.92,73.79 620.29,73.61 620.66,73.42 621.03,73.24 621.40,73.06 621.77,72.88 622.14,72.70 622.50,72.52 622.87,72.34 623.24,72.16 623.61,71.98 623.98,71.80 624.35,71.62 624.72,71.45 625.08,71.27 625.45,71.09 625.82,70.91 626.19,70.74 626.56,70.56 626.93,70.39 627.30,70.21 627.67,70.04 628.03,69.86 628.40,69.69 628.77,69.51 629.14,69.34 629.51,69.17 629.88,68.99 630.25,68.82 630.61,68.65 630.98,68.48 631.35,68.30 631.72,68.13 632.09,67.96 632.46,67.79 632.83,67.62 633.20,67.45 633.56,67.28 633.93,67.11 634.30,66.94 634.67,66.77 635.04,66.60 635.41,66.44 635.78,66.27 636.14,66.10 636.51,65.93 636.88,65.77 637.25,65.60 637.62,65.43 637.99,65.27 638.36,65.10 638.73,64.94 639.09,64.77 639.46,64.61 639.83,64.44 640.20,64.28" fill="none" stroke="#000000" stroke-width="1.8" stroke-linejoin="round"/>
<polyline clip-path="url(#cb)" points="382.50,97.75 382.87,98.00 383.24,98.26 383.61,98.52 383.97,98.77 384.34,99.03 384.71,99.29 385.08,99.56 385.45,99.82 385.82,100.08 386.19,100.35 386.56,100.62 386.92,100.88 387.29,101.15 387.66,101.42 388.03,101.70 388.40,101.97 388.77,102.24 389.14,102.52 389.50,102.80 389.87,103.08 390.24,103.35 390.61,103.64 390.98,103.92 391.35,104.20 391.72,104.49 392.09,104.77 392.45,105.06 392.82,105.35 393.19,105.64 393.56,105.93 393.93,106.22 394.30,106.52 394.67,106.81 395.03,107.11 395.40,107.40 395.77,107.70 396.14,108.00 396.51,108.31 396.88,108.61 397.25,108.91 397.62,109.22 397.98,109.53 398.35,109.84 398.72,110.15 399.09,110.46 399.46,110.77 399.83,111.08 400.20,111.40 400.56,111.72 400.93,112.03 401.30,112.35 401.67,112.67 402.04,113.00 402.41,113.32 402.78,113.65 403.15,113.97 403.51,114.30 403.88,114.63 404.25,114.96 404.62,115.29 404.99,115.62 405.36,115.96 405.73,116.29 406.09,116.63 406.46,116.97 406.83,117.31 407.20,117.65 407.57,118.00 407.94,118.34 408.31,118.68 408.68,119.03 409.04,119.38 409.41,119.73 409.78,120.08 410.15,120.43 410.52,120.79 410.89,121.14 411.26,121.50 411.62,121.86 411.99,122.21 412.36,122.57 412.73,122.94 413.10,123.30 413.47,123.66 413.84,124.03 414.21,124.39 414.57,124.76 414.94,125.13 415.31,125.50 415.68,125.87 416.05,126.25 416.42,126.62 416.79,126.99 417.15,127.37 417.52,127.75 417.89,128.13 418.26,128.51 418.63,128.89 419.00,129.27 419.37,129.65 419.74,130.04 420.10,130.42 420.47,130.81 420.84,131.20 421.21,131.58 421.58,131.97 421.95,132.36 422.32,132.76 422.68,133.15 423.05,133.54 423.42,133.94 423.79,134.33 424.16,134.73 424.53,135.12 424.90,135.52 425.27,135.92 425.63,136.32 426.00,136.72 426.37,137.12 426.74,137.52 427.11,137.92 427.48,138.32 427.85,138.72 428.22,139.13 428.58,139.53 428.95,139.93 429.32,140.34 429.69,140.74 430.06,141.15 430.43,141.55 430.80,141.96 431.16,142.36 431.53,142.77 431.90,143.18 432.27,143.58 432.64,143.99 433.01,144.39 433.38,144.80 433.75,145.21 434.11,145.61 434.48,146.02 434.85,146.42 435.22,146.83 435.59,147.23 435.96,147.63 436.33,148.04 436.69,148.44 437.06,148.84 437.43,149.24 437.80,149.64 438.17,150.04 438.54,150.44 438.91,150.84 439.28,151.24 439.64,151.63 440.01,152.02 440.38,152.42 440.75,152.81 441.12,153.20 441.49,153.58 441.86,153.97 442.22,154.36 442.59,154.74 442.96,155.12 443.33,155.50 443.70,155.87 444.07,156.25 444.44,156.62 444.81,156.99 445.17,157.35 445.54,157.72 445.91,158.08 446.28,158.44 446.65,158.79 447.02,159.14 447.39,159.49 447.75,159.84 448.12,160.18 448.49,160.51 448.86,160.85 449.23,161.18 449.60,161.50 449.97,161.83 450.34,162.14 450.70,162.46 451.07,162.77 451.44,163.07 451.81,163.37 452.18,163.66 452.55,163.95 452.92,164.23 453.28,164.51 453.65,164.78 454.02,165.05 454.39,165.31 454.76,165.57 455.13,165.82 455.50,166.06 455.87,166.30 456.23,166.53 456.60,166.75 456.97,166.97 457.34,167.18 457.71,167.38 458.08,167.57 458.45,167.76 458.81,167.94 459.18,168.12 459.55,168.29 459.92,168.44 460.29,168.60 460.66,168.74 461.03,168.88 461.40,169.00 461.76,169.12 462.13,169.24 462.50,169.34 462.87,169.44 463.24,169.52 463.61,169.60 463.98,169.67 464.34,169.74 464.71,169.79 465.08,169.84 465.45,169.87 465.82,169.90 466.19,169.92 466.56,169.93 466.93,169.93 467.29,169.92 467.66,169.91 468.03,169.88 468.40,169.84 468.77,169.79 469.14,169.73 469.51,169.66 469.87,169.58 470.24,169.49 470.61,169.38 470.98,169.27 471.35,169.14 471.72,169.00 472.09,168.84 472.46,168.68 472.82,168.50 472.82,168.50 473.19,168.31 473.56,168.11 473.93,167.90 474.30,167.68 474.67,167.44 475.04,167.20 475.40,166.94 475.77,166.68 476.14,166.41 476.51,166.13 476.88,165.84 477.25,165.54 477.62,165.24 477.99,164.93 478.35,164.62 478.72,164.30 479.09,163.98 479.46,163.65 479.83,163.32 480.20,162.99 480.57,162.65 480.93,162.31 481.30,161.96 481.67,161.61 482.04,161.26 482.41,160.91 482.78,160.55 483.15,160.19 483.52,159.83 483.88,159.47 484.25,159.10 484.62,158.73 484.99,158.36 485.36,157.99 485.73,157.62 486.10,157.24 486.46,156.86 486.83,156.48 487.20,156.10 487.57,155.71 487.94,155.32 488.31,154.93 488.68,154.54 489.05,154.15 489.41,153.76 489.78,153.36 490.15,152.97 490.52,152.57 490.89,152.17 491.26,151.77 491.63,151.37 491.99,150.97 492.36,150.57 492.73,150.16 493.10,149.76 493.47,149.36 493.84,148.95 494.21,148.55 494.58,148.14 494.94,147.73 495.31,147.33 495.68,146.92 496.05,146.52 496.42,146.11 496.79,145.71 497.16,145.30 497.52,144.90 497.89,144.49 498.26,144.09 498.63,143.68 499.00,143.28 499.37,142.88 499.74,142.47 500.11,142.07 500.47,141.67 500.84,141.27 501.21,140.87 501.58,140.48 501.95,140.08 502.32,139.68 502.69,139.29 503.05,138.89 503.42,138.50 503.79,138.11 504.16,137.72 504.53,137.33 504.90,136.94 505.27,136.55 505.64,136.17 506.00,135.78 506.37,135.40 506.74,135.02 507.11,134.64 507.48,134.26 507.85,133.88 508.22,133.50 508.58,133.13 508.95,132.75 509.32,132.38 509.69,132.01 510.06,131.64 510.43,131.27 510.80,130.90 511.17,130.54 511.53,130.17 511.90,129.81 512.27,129.45 512.64,129.09 513.01,128.73 513.38,128.37 513.75,128.01 514.12,127.66 514.48,127.31 514.85,126.95 515.22,126.60 515.59,126.25 515.96,125.91 516.33,125.56 516.70,125.22 517.06,124.87 517.43,124.53 517.80,124.19 518.17,123.85 518.54,123.51 518.91,123.18 519.28,122.84 519.65,122.51 520.01,122.17 520.38,121.84 520.75,121.51 521.12,121.19 521.49,120.86 521.86,120.53 522.23,120.21 522.59,119.89 522.96,119.56 523.33,119.24 523.70,118.93 524.07,118.61 524.44,118.29 524.81,117.98 525.18,117.66 525.54,117.35 525.91,117.04 526.28,116.73 526.65,116.42 527.02,116.11 527.39,115.81 527.76,115.50 528.12,115.20 528.49,114.89 528.86,114.59 529.23,114.29 529.60,113.99 529.97,113.69 530.34,113.40 530.71,113.10 531.07,112.81 531.44,112.51 531.81,112.22 532.18,111.93 532.55,111.64 532.92,111.35 533.29,111.06 533.65,110.78 534.02,110.49 534.39,110.21 534.76,109.92 535.13,109.64 535.50,109.36 535.87,109.08 536.24,108.80 536.60,108.52 536.97,108.25 537.34,107.97 537.71,107.70 538.08,107.42 538.45,107.15 538.82,106.88 539.18,106.61 539.55,106.34 539.92,106.07 540.29,105.80 540.66,105.53 541.03,105.27 541.40,105.00 541.77,104.74 542.13,104.47 542.50,104.21 542.87,103.95 543.24,103.69 543.61,103.43 543.98,103.17 544.35,102.92 544.71,102.66 545.08,102.40 545.45,102.15 545.82,101.89 546.19,101.64 546.56,101.39 546.93,101.14 547.30,100.89 547.66,100.64 548.03,100.39 548.40,100.14 548.77,99.89 549.14,99.65 549.51,99.40 549.88,99.16 550.24,98.91 550.61,98.67 550.98,98.43 551.35,98.19 551.72,97.95 552.09,97.71 552.46,97.47 552.83,97.23 553.19,96.99 553.56,96.76 553.93,96.52 554.30,96.28 554.67,96.05 555.04,95.82 555.41,95.58 555.77,95.35 556.14,95.12 556.51,94.89 556.88,94.66 557.25,94.43 557.62,94.20 557.99,93.97 558.36,93.75 558.72,93.52 559.09,93.30 559.46,93.07 559.83,92.85 560.20,92.62 560.57,92.40 560.94,92.18 561.30,91.96 561.67,91.73 562.04,91.51 562.41,91.29 562.78,91.08 563.15,90.86 563.52,90.64 563.89,90.42 564.25,90.21 564.62,89.99 564.99,89.78 565.36,89.56 565.73,89.35 566.10,89.13 566.47,88.92 566.83,88.71 567.20,88.50 567.57,88.29 567.94,88.08 568.31,87.87 568.68,87.66 569.05,87.45 569.42,87.24 569.78,87.04 570.15,86.83 570.52,86.62 570.89,86.42 571.26,86.21 571.63,86.01 572.00,85.80 572.36,85.60 572.73,85.40 573.10,85.20 573.47,84.99 573.84,84.79 574.21,84.59 574.58,84.39 574.95,84.19 575.31,83.99 575.68,83.80 576.05,83.60 576.42,83.40 576.79,83.20 577.16,83.01 577.53,82.81 577.89,82.62 578.26,82.42 578.63,82.23 579.00,82.03 579.37,81.84 579.74,81.65 580.11,81.46 580.48,81.27 580.84,81.07 581.21,80.88 581.58,80.69 581.95,80.50 582.32,80.31 582.69,80.13 583.06,79.94 583.42,79.75 583.79,79.56 584.16,79.37 584.53,79.19 584.90,79.00 585.27,78.82 585.64,78.63 586.01,78.45 586.37,78.26 586.74,78.08 587.11,77.90 587.48,77.71 587.85,77.53 588.22,77.35 588.59,77.17 588.95,76.99 589.32,76.81 589.69,76.63 590.06,76.45 590.43,76.27 590.80,76.09 591.17,75.91 591.54,75.73 591.90,75.55 592.27,75.38 592.64,75.20 593.01,75.02 593.38,74.85 593.75,74.67 594.12,74.50 594.48,74.32 594.85,74.15 595.22,73.97 595.59,73.80 595.96,73.63 596.33,73.45 596.70,73.28 597.07,73.11 597.43,72.94 597.80,72.77 598.17,72.59 598.54,72.42 598.91,72.25 599.28,72.08 599.65,71.91 600.02,71.75 600.38,71.58 600.75,71.41 601.12,71.24 601.49,71.07 601.86,70.91 602.23,70.74 602.60,70.57 602.96,70.41 603.33,70.24 603.70,70.08 604.07,69.91 604.44,69.75 604.81,69.58 605.18,69.42 605.55,69.25 605.91,69.09 606.28,68.93 606.65,68.76 607.02,68.60 607.39,68.44 607.76,68.28 608.13,68.12 608.49,67.96 608.86,67.80 609.23,67.64 609.60,67.48 609.97,67.32 610.34,67.16 610.71,67.00 611.08,66.84 611.44,66.68 611.81,66.52 612.18,66.37 612.55,66.21 612.92,66.05 613.29,65.89 613.66,65.74 614.02,65.58 614.39,65.43 614.76,65.27 615.13,65.12 615.50,64.96 615.87,64.81 616.24,64.65 616.61,64.50 616.97,64.34 617.34,64.19 617.71,64.04 618.08,63.88 618.45,63.73 618.82,63.58 619.19,63.43 619.55,63.28 619.92,63.13 620.29,62.97 620.66,62.82 621.03,62.67 621.40,62.52 621.77,62.37 622.14,62.22 622.50,62.07 622.87,61.93 623.24,61.78 623.61,61.63 623.98,61.48 624.35,61.33 624.72,61.18 625.08,61.04 625.45,60.89 625.82,60.74 626.19,60.60 626.56,60.45 626.93,60.30 627.30,60.16 627.67,60.01 628.03,59.87 628.40,59.72 628.77,59.58 629.14,59.43 629.51,59.29 629.88,59.14 630.25,59.00 630.61,58.86 630.98,58.71 631.35,58.57 631.72,58.43 632.09,58.29 632.46,58.14 632.83,58.00 633.20,57.86 633.56,57.72 633.93,57.58 634.30,57.44 634.67,57.30 635.04,57.16 635.41,57.02 635.78,56.88 636.14,56.74 636.51,56.60 636.88,56.46 637.25,56.32 637.62,56.18 637.99,56.04 638.36,55.90 638.73,55.76 639.09,55.63 639.46,55.49 639.83,55.35 640.20,55.21" fill="none" stroke="#ff0000" stroke-width="1.8" stroke-linejoin="round"/>
<polyline clip-path="url(#cb)" points="382.50,113.07 382.87,113.35 383.24,113.63 383.61,113.91 383.97,114.20 384.34,114.48 384.71,114.77 385.08,115.06 385.45,115.35 385.82,115.64 386.19,115.94 386.56,116.23 386.92,116.53 387.29,116.83 387.66,117.13 388.03,117.43 388.40,117.74 388.77,118.04 389.14,118.35 389.50,118.66 389.87,118.97 390.24,119.28 390.61,119.59 390.98,119.91 391.35,120.23 391.72,120.55 392.09,120.87 392.45,121.19 392.82,121.51 393.19,121.84 393.56,122.17 393.93,122.50 394.30,122.83 394.67,123.16 395.03,123.49 395.40,123.83 395.77,124.17 396.14,124.51 396.51,124.85 396.88,125.19 397.25,125.53 397.62,125.88 397.98,126.23 398.35,126.58 398.72,126.93 399.09,127.28 399.46,127.64 399.83,128.00 400.20,128.35 400.56,128.71 400.93,129.08 401.30,129.44 401.67,129.80 402.04,130.17 402.41,130.54 402.78,130.91 403.15,131.28 403.51,131.65 403.88,132.03 404.25,132.40 404.62,132.78 404.99,133.16 405.36,133.54 405.73,133.93 406.09,134.31 406.46,134.69 406.83,135.08 407.20,135.47 407.57,135.86 407.94,136.25 408.31,136.64 408.68,137.04 409.04,137.43 409.41,137.83 409.78,138.23 410.15,138.63 410.52,139.03 410.89,139.43 411.26,139.83 411.62,140.24 411.99,140.64 412.36,141.05 412.73,141.45 413.10,141.86 413.47,142.27 413.84,142.68 414.21,143.09 414.57,143.50 414.94,143.91 415.31,144.33 415.68,144.74 416.05,145.15 416.42,145.57 416.79,145.98 417.15,146.40 417.52,146.81 417.89,147.23 418.26,147.64 418.63,148.06 419.00,148.47 419.37,148.89 419.74,149.30 420.10,149.72 420.47,150.13 420.84,150.54 421.21,150.96 421.58,151.37 421.95,151.78 422.32,152.19 422.68,152.60 423.05,153.01 423.42,153.42 423.79,153.83 424.16,154.23 424.53,154.63 424.90,155.04 425.27,155.44 425.63,155.84 426.00,156.23 426.37,156.63 426.74,157.02 427.11,157.41 427.48,157.79 427.85,158.18 428.22,158.56 428.58,158.94 428.95,159.31 429.32,159.68 429.69,160.05 430.06,160.42 430.43,160.78 430.80,161.13 431.16,161.49 431.53,161.83 431.90,162.18 432.27,162.52 432.64,162.85 433.01,163.18 433.38,163.50 433.75,163.82 434.11,164.13 434.48,164.44 434.85,164.74 435.22,165.03 435.59,165.32 435.96,165.60 436.33,165.87 436.69,166.14 437.06,166.40 437.43,166.65 437.80,166.89 438.17,167.13 438.54,167.36 438.91,167.57 439.28,167.78 439.64,167.98 440.01,168.18 440.38,168.36 440.75,168.53 441.12,168.69 441.49,168.84 441.86,168.99 442.22,169.12 442.59,169.24 442.96,169.35 443.33,169.45 443.70,169.53 444.07,169.61 444.44,169.67 444.81,169.72 445.17,169.76 445.54,169.79 445.91,169.81 446.28,169.81 446.65,169.80 447.02,169.78 447.39,169.75 447.75,169.70 448.12,169.64 448.49,169.57 448.86,169.49 449.23,169.40 449.60,169.29 449.97,169.18 450.34,169.05 450.70,168.92 451.07,168.77 451.44,168.61 451.69,168.50 451.81,168.45 452.18,168.27 452.55,168.09 452.92,167.90 453.28,167.70 453.65,167.49 454.02,167.28 454.39,167.06 454.76,166.83 455.13,166.60 455.50,166.37 455.87,166.12 456.23,165.88 456.60,165.62 456.97,165.37 457.34,165.11 457.71,164.84 458.08,164.57 458.45,164.30 458.81,164.03 459.18,163.75 459.55,163.46 459.92,163.18 460.29,162.89 460.66,162.60 461.03,162.30 461.40,162.00 461.76,161.70 462.13,161.39 462.50,161.08 462.87,160.77 463.24,160.46 463.61,160.14 463.98,159.82 464.34,159.50 464.71,159.17 465.08,158.84 465.45,158.51 465.82,158.17 466.19,157.84 466.56,157.50 466.93,157.15 467.29,156.81 467.66,156.46 468.03,156.11 468.40,155.76 468.77,155.41 469.14,155.05 469.51,154.69 469.87,154.33 470.24,153.97 470.61,153.60 470.98,153.24 471.35,152.87 471.72,152.50 472.09,152.13 472.46,151.76 472.82,151.39 473.19,151.01 473.56,150.63 473.93,150.26 474.30,149.88 474.67,149.50 475.04,149.12 475.40,148.74 475.77,148.36 476.14,147.98 476.51,147.59 476.88,147.21 477.25,146.83 477.62,146.44 477.99,146.06 478.35,145.68 478.72,145.29 479.09,144.91 479.46,144.52 479.83,144.14 480.20,143.75 480.57,143.37 480.93,142.98 481.30,142.60 481.67,142.21 482.04,141.83 482.41,141.45 482.78,141.06 483.15,140.68 483.52,140.30 483.88,139.91 484.25,139.53 484.62,139.15 484.99,138.77 485.36,138.39 485.73,138.01 486.10,137.63 486.46,137.26 486.83,136.88 487.20,136.50 487.57,136.13 487.94,135.75 488.31,135.38 488.68,135.01 489.05,134.64 489.41,134.26 489.78,133.89 490.15,133.53 490.52,133.16 490.89,132.79 491.26,132.42 491.63,132.06 491.99,131.69 492.36,131.33 492.73,130.97 493.10,130.61 493.47,130.25 493.84,129.89 494.21,129.53 494.58,129.18 494.94,128.82 495.31,128.47 495.68,128.11 496.05,127.76 496.42,127.41 496.79,127.06 497.16,126.71 497.52,126.37 497.89,126.02 498.26,125.67 498.63,125.33 499.00,124.99 499.37,124.65 499.74,124.31 500.11,123.97 500.47,123.63 500.84,123.29 501.21,122.96 501.58,122.62 501.95,122.29 502.32,121.96 502.69,121.63 503.05,121.30 503.42,120.97 503.79,120.64 504.16,120.32 504.53,119.99 504.90,119.67 505.27,119.35 505.64,119.03 506.00,118.71 506.37,118.39 506.74,118.07 507.11,117.76 507.48,117.44 507.85,117.13 508.22,116.81 508.58,116.50 508.95,116.19 509.32,115.88 509.69,115.58 510.06,115.27 510.43,114.96 510.80,114.66 511.17,114.36 511.53,114.05 511.90,113.75 512.27,113.45 512.64,113.15 513.01,112.86 513.38,112.56 513.75,112.27 514.12,111.97 514.48,111.68 514.85,111.39 515.22,111.10 515.59,110.81 515.96,110.52 516.33,110.23 516.70,109.94 517.06,109.66 517.43,109.37 517.80,109.09 518.17,108.81 518.54,108.53 518.91,108.25 519.28,107.97 519.65,107.69 520.01,107.41 520.38,107.14 520.75,106.86 521.12,106.59 521.49,106.32 521.86,106.04 522.23,105.77 522.59,105.50 522.96,105.23 523.33,104.97 523.70,104.70 524.07,104.43 524.44,104.17 524.81,103.91 525.18,103.64 525.54,103.38 525.91,103.12 526.28,102.86 526.65,102.60 527.02,102.34 527.39,102.08 527.76,101.83 528.12,101.57 528.49,101.32 528.86,101.07 529.23,100.81 529.60,100.56 529.97,100.31 530.34,100.06 530.71,99.81 531.07,99.56 531.44,99.32 531.81,99.07 532.18,98.82 532.55,98.58 532.92,98.34 533.29,98.09 533.65,97.85 534.02,97.61 534.39,97.37 534.76,97.13 535.13,96.89 535.50,96.65 535.87,96.42 536.24,96.18 536.60,95.94 536.97,95.71 537.34,95.48 537.71,95.24 538.08,95.01 538.45,94.78 538.82,94.55 539.18,94.32 539.55,94.09 539.92,93.86 540.29,93.63 540.66,93.41 541.03,93.18 541.40,92.96 541.77,92.73 542.13,92.51 542.50,92.28 542.87,92.06 543.24,91.84 543.61,91.62 543.98,91.40 544.35,91.18 544.71,90.96 545.08,90.74 545.45,90.53 545.82,90.31 546.19,90.09 546.56,89.88 546.93,89.66 547.30,89.45 547.66,89.24 548.03,89.02 548.40,88.81 548.77,88.60 549.14,88.39 549.51,88.18 549.88,87.97 550.24,87.76 550.61,87.56 550.98,87.35 551.35,87.14 551.72,86.94 552.09,86.73 552.46,86.53 552.83,86.32 553.19,86.12 553.56,85.92 553.93,85.71 554.30,85.51 554.67,85.31 555.04,85.11 555.41,84.91 555.77,84.71 556.14,84.51 556.51,84.32 556.88,84.12 557.25,83.92 557.62,83.73 557.99,83.53 558.36,83.34 558.72,83.14 559.09,82.95 559.46,82.75 559.83,82.56 560.20,82.37 560.57,82.18 560.94,81.99 561.30,81.80 561.67,81.61 562.04,81.42 562.41,81.23 562.78,81.04 563.15,80.85 563.52,80.67 563.89,80.48 564.25,80.29 564.62,80.11 564.99,79.92 565.36,79.74 565.73,79.55 566.10,79.37 566.47,79.19 566.83,79.01 567.20,78.82 567.57,78.64 567.94,78.46 568.31,78.28 568.68,78.10 569.05,77.92 569.42,77.74 569.78,77.56 570.15,77.39 570.52,77.21 570.89,77.03 571.26,76.85 571.63,76.68 572.00,76.50 572.36,76.33 572.73,76.15 573.10,75.98 573.47,75.81 573.84,75.63 574.21,75.46 574.58,75.29 574.95,75.11 575.31,74.94 575.68,74.77 576.05,74.60 576.42,74.43 576.79,74.26 577.16,74.09 577.53,73.92 577.89,73.76 578.26,73.59 578.63,73.42 579.00,73.25 579.37,73.09 579.74,72.92 580.11,72.75 580.48,72.59 580.84,72.42 581.21,72.26 581.58,72.10 581.95,71.93 582.32,71.77 582.69,71.61 583.06,71.44 583.42,71.28 583.79,71.12 584.16,70.96 584.53,70.80 584.90,70.64 585.27,70.48 585.64,70.32 586.01,70.16 586.37,70.00 586.74,69.84 587.11,69.68 587.48,69.53 587.85,69.37 588.22,69.21 588.59,69.05 588.95,68.90 589.32,68.74 589.69,68.59 590.06,68.43 590.43,68.28 590.80,68.12 591.17,67.97 591.54,67.81 591.90,67.66 592.27,67.51 592.64,67.36 593.01,67.20 593.38,67.05 593.75,66.90 594.12,66.75 594.48,66.60 594.85,66.45 595.22,66.30 595.59,66.15 595.96,66.00 596.33,65.85 596.70,65.70 597.07,65.55 597.43,65.40 597.80,65.26 598.17,65.11 598.54,64.96 598.91,64.82 599.28,64.67 599.65,64.52 600.02,64.38 600.38,64.23 600.75,64.09 601.12,63.94 601.49,63.80 601.86,63.65 602.23,63.51 602.60,63.37 602.96,63.22 603.33,63.08 603.70,62.94 604.07,62.79 604.44,62.65 604.81,62.51 605.18,62.37 605.55,62.23 605.91,62.09 606.28,61.95 606.65,61.81 607.02,61.67 607.39,61.53 607.76,61.39 608.13,61.25 608.49,61.11 608.86,60.97 609.23,60.83 609.60,60.70 609.97,60.56 610.34,60.42 610.71,60.28 611.08,60.15 611.44,60.01 611.81,59.88 612.18,59.74 612.55,59.60 612.92,59.47 613.29,59.33 613.66,59.20 614.02,59.06 614.39,58.93 614.76,58.80 615.13,58.66 615.50,58.53 615.87,58.40 616.24,58.26 616.61,58.13 616.97,58.00 617.34,57.87 617.71,57.74 618.08,57.60 618.45,57.47 618.82,57.34 619.19,57.21 619.55,57.08 619.92,56.95 620.29,56.82 620.66,56.69 621.03,56.56 621.40,56.43 621.77,56.30 622.14,56.17 622.50,56.05 622.87,55.92 623.24,55.79 623.61,55.66 623.98,55.54 624.35,55.41 624.72,55.28 625.08,55.15 625.45,55.03 625.82,54.90 626.19,54.78 626.56,54.65 626.93,54.52 627.30,54.40 627.67,54.27 628.03,54.15 628.40,54.02 628.77,53.90 629.14,53.78 629.51,53.65 629.88,53.53 630.25,53.41 630.61,53.28 630.98,53.16 631.35,53.04 631.72,52.91 632.09,52.79 632.46,52.67 632.83,52.55 633.20,52.43 633.56,52.30 633.93,52.18 634.30,52.06 634.67,51.94 635.04,51.82 635.41,51.70 635.78,51.58 636.14,51.46 636.51,51.34 636.88,51.22 637.25,51.10 637.62,50.98 637.99,50.86 638.36,50.75 638.73,50.63 639.09,50.51 639.46,50.39 639.83,50.27 640.20,50.16" fill="none" stroke="#0000ff" stroke-width="1.8" stroke-linejoin="round"/>
<polyline clip-path="url(#cb)" points="382.50,126.56 382.87,126.91 383.24,127.26 383.61,127.61 383.97,127.97 384.34,128.32 384.71,128.67 385.08,129.03 385.45,129.39 385.82,129.75 386.19,130.11 386.56,130.47 386.92,130.83 387.29,131.19 387.66,131.56 388.03,131.92 388.40,132.29 388.77,132.65 389.14,133.02 389.50,133.39 389.87,133.76 390.24,134.13 390.61,134.51 390.98,134.88 391.35,135.26 391.72,135.63 392.09,136.01 392.45,136.38 392.82,136.76 393.19,137.14 393.56,137.52 393.93,137.90 394.30,138.28 394.67,138.66 395.03,139.05 395.40,139.43 395.77,139.81 396.14,140.20 396.51,140.58 396.88,140.97 397.25,141.35 397.62,141.74 397.98,142.13 398.35,142.52 398.72,142.90 399.09,143.29 399.46,143.68 399.83,144.07 400.20,144.46 400.56,144.85 400.93,145.24 401.30,145.62 401.67,146.01 402.04,146.40 402.41,146.79 402.78,147.18 403.15,147.57 403.51,147.96 403.88,148.35 404.25,148.73 404.62,149.12 404.99,149.51 405.36,149.89 405.73,150.28 406.09,150.67 406.46,151.05 406.83,151.43 407.20,151.82 407.57,152.20 407.94,152.58 408.31,152.96 408.68,153.33 409.04,153.71 409.41,154.09 409.78,154.46 410.15,154.83 410.52,155.20 410.89,155.57 411.26,155.94 411.62,156.30 411.99,156.67 412.36,157.03 412.73,157.39 413.10,157.74 413.47,158.10 413.84,158.45 414.21,158.80 414.57,159.14 414.94,159.48 415.31,159.82 415.68,160.16 416.05,160.49 416.42,160.82 416.79,161.15 417.15,161.47 417.52,161.79 417.89,162.10 418.26,162.41 418.63,162.72 419.00,163.02 419.37,163.32 419.74,163.61 420.10,163.89 420.47,164.18 420.84,164.45 421.21,164.72 421.58,164.99 421.95,165.25 422.32,165.50 422.68,165.75 423.05,165.99 423.42,166.22 423.79,166.45 424.16,166.67 424.53,166.88 424.90,167.08 425.27,167.28 425.63,167.47 426.00,167.65 426.37,167.82 426.74,167.99 427.11,168.14 427.48,168.29 427.85,168.43 428.22,168.56 428.58,168.67 428.95,168.78 429.32,168.88 429.69,168.97 430.06,169.05 430.43,169.12 430.80,169.17 431.16,169.22 431.53,169.26 431.90,169.28 432.27,169.30 432.64,169.30 433.01,169.29 433.38,169.27 433.75,169.24 434.11,169.20 434.48,169.15 434.85,169.09 435.22,169.01 435.59,168.93 435.96,168.84 436.33,168.73 436.69,168.62 437.06,168.49 437.43,168.36 437.80,168.21 438.17,168.06 438.48,167.92 438.54,167.90 438.91,167.73 439.28,167.55 439.64,167.36 440.01,167.16 440.38,166.96 440.75,166.74 441.12,166.52 441.49,166.30 441.86,166.06 442.22,165.82 442.59,165.57 442.96,165.32 443.33,165.06 443.70,164.79 444.07,164.52 444.44,164.24 444.81,163.96 445.17,163.67 445.54,163.37 445.91,163.07 446.28,162.77 446.65,162.46 447.02,162.15 447.39,161.83 447.75,161.51 448.12,161.18 448.49,160.85 448.86,160.52 449.23,160.18 449.60,159.84 449.97,159.50 450.34,159.15 450.70,158.80 451.07,158.44 451.44,158.09 451.81,157.73 452.18,157.37 452.55,157.00 452.92,156.63 453.28,156.26 453.65,155.89 454.02,155.52 454.39,155.14 454.76,154.76 455.13,154.39 455.50,154.00 455.87,153.62 456.23,153.24 456.60,152.85 456.97,152.46 457.34,152.08 457.71,151.69 458.08,151.30 458.45,150.91 458.81,150.51 459.18,150.12 459.55,149.73 459.92,149.33 460.29,148.94 460.66,148.55 461.03,148.15 461.40,147.76 461.76,147.36 462.13,146.97 462.50,146.57 462.87,146.18 463.24,145.78 463.61,145.39 463.98,144.99 464.34,144.60 464.71,144.20 465.08,143.81 465.45,143.42 465.82,143.02 466.19,142.63 466.56,142.24 466.93,141.85 467.29,141.46 467.66,141.07 468.03,140.68 468.40,140.29 468.77,139.91 469.14,139.52 469.51,139.13 469.87,138.75 470.24,138.36 470.61,137.98 470.98,137.60 471.35,137.22 471.72,136.84 472.09,136.46 472.46,136.08 472.82,135.70 473.19,135.33 473.56,134.95 473.93,134.58 474.30,134.21 474.67,133.84 475.04,133.47 475.40,133.10 475.77,132.73 476.14,132.36 476.51,132.00 476.88,131.63 477.25,131.27 477.62,130.91 477.99,130.55 478.35,130.19 478.72,129.83 479.09,129.47 479.46,129.12 479.83,128.76 480.20,128.41 480.57,128.06 480.93,127.71 481.30,127.36 481.67,127.01 482.04,126.66 482.41,126.32 482.78,125.97 483.15,125.63 483.52,125.29 483.88,124.94 484.25,124.60 484.62,124.27 484.99,123.93 485.36,123.59 485.73,123.26 486.10,122.93 486.46,122.59 486.83,122.26 487.20,121.93 487.57,121.60 487.94,121.28 488.31,120.95 488.68,120.63 489.05,120.30 489.41,119.98 489.78,119.66 490.15,119.34 490.52,119.02 490.89,118.70 491.26,118.39 491.63,118.07 491.99,117.76 492.36,117.44 492.73,117.13 493.10,116.82 493.47,116.51 493.84,116.21 494.21,115.90 494.58,115.59 494.94,115.29 495.31,114.98 495.68,114.68 496.05,114.38 496.42,114.08 496.79,113.78 497.16,113.48 497.52,113.19 497.89,112.89 498.26,112.60 498.63,112.30 499.00,112.01 499.37,111.72 499.74,111.43 500.11,111.14 500.47,110.85 500.84,110.56 501.21,110.28 501.58,109.99 501.95,109.71 502.32,109.43 502.69,109.14 503.05,108.86 503.42,108.58 503.79,108.31 504.16,108.03 504.53,107.75 504.90,107.47 505.27,107.20 505.64,106.93 506.00,106.65 506.37,106.38 506.74,106.11 507.11,105.84 507.48,105.57 507.85,105.30 508.22,105.04 508.58,104.77 508.95,104.51 509.32,104.24 509.69,103.98 510.06,103.72 510.43,103.46 510.80,103.19 511.17,102.94 511.53,102.68 511.90,102.42 512.27,102.16 512.64,101.91 513.01,101.65 513.38,101.40 513.75,101.14 514.12,100.89 514.48,100.64 514.85,100.39 515.22,100.14 515.59,99.89 515.96,99.64 516.33,99.39 516.70,99.15 517.06,98.90 517.43,98.66 517.80,98.41 518.17,98.17 518.54,97.93 518.91,97.69 519.28,97.45 519.65,97.21 520.01,96.97 520.38,96.73 520.75,96.49 521.12,96.26 521.49,96.02 521.86,95.78 522.23,95.55 522.59,95.32 522.96,95.08 523.33,94.85 523.70,94.62 524.07,94.39 524.44,94.16 524.81,93.93 525.18,93.70 525.54,93.47 525.91,93.25 526.28,93.02 526.65,92.80 527.02,92.57 527.39,92.35 527.76,92.12 528.12,91.90 528.49,91.68 528.86,91.46 529.23,91.24 529.60,91.02 529.97,90.80 530.34,90.58 530.71,90.36 531.07,90.15 531.44,89.93 531.81,89.71 532.18,89.50 532.55,89.28 532.92,89.07 533.29,88.86 533.65,88.64 534.02,88.43 534.39,88.22 534.76,88.01 535.13,87.80 535.50,87.59 535.87,87.38 536.24,87.17 536.60,86.97 536.97,86.76 537.34,86.55 537.71,86.35 538.08,86.14 538.45,85.94 538.82,85.74 539.18,85.53 539.55,85.33 539.92,85.13 540.29,84.93 540.66,84.73 541.03,84.53 541.40,84.33 541.77,84.13 542.13,83.93 542.50,83.73 542.87,83.53 543.24,83.34 543.61,83.14 543.98,82.95 544.35,82.75 544.71,82.56 545.08,82.36 545.45,82.17 545.82,81.98 546.19,81.79 546.56,81.59 546.93,81.40 547.30,81.21 547.66,81.02 548.03,80.83 548.40,80.64 548.77,80.45 549.14,80.27 549.51,80.08 549.88,79.89 550.24,79.71 550.61,79.52 550.98,79.33 551.35,79.15 551.72,78.97 552.09,78.78 552.46,78.60 552.83,78.42 553.19,78.23 553.56,78.05 553.93,77.87 554.30,77.69 554.67,77.51 555.04,77.33 555.41,77.15 555.77,76.97 556.14,76.79 556.51,76.61 556.88,76.44 557.25,76.26 557.62,76.08 557.99,75.91 558.36,75.73 558.72,75.56 559.09,75.38 559.46,75.21 559.83,75.03 560.20,74.86 560.57,74.69 560.94,74.51 561.30,74.34 561.67,74.17 562.04,74.00 562.41,73.83 562.78,73.66 563.15,73.49 563.52,73.32 563.89,73.15 564.25,72.98 564.62,72.81 564.99,72.65 565.36,72.48 565.73,72.31 566.10,72.14 566.47,71.98 566.83,71.81 567.20,71.65 567.57,71.48 567.94,71.32 568.31,71.15 568.68,70.99 569.05,70.83 569.42,70.67 569.78,70.50 570.15,70.34 570.52,70.18 570.89,70.02 571.26,69.86 571.63,69.70 572.00,69.54 572.36,69.38 572.73,69.22 573.10,69.06 573.47,68.90 573.84,68.74 574.21,68.59 574.58,68.43 574.95,68.27 575.31,68.11 575.68,67.96 576.05,67.80 576.42,67.65 576.79,67.49 577.16,67.34 577.53,67.18 577.89,67.03 578.26,66.88 578.63,66.72 579.00,66.57 579.37,66.42 579.74,66.27 580.11,66.11 580.48,65.96 580.84,65.81 581.21,65.66 581.58,65.51 581.95,65.36 582.32,65.21 582.69,65.06 583.06,64.91 583.42,64.76 583.79,64.61 584.16,64.47 584.53,64.32 584.90,64.17 585.27,64.02 585.64,63.88 586.01,63.73 586.37,63.59 586.74,63.44 587.11,63.29 587.48,63.15 587.85,63.00 588.22,62.86 588.59,62.72 588.95,62.57 589.32,62.43 589.69,62.29 590.06,62.14 590.43,62.00 590.80,61.86 591.17,61.72 591.54,61.58 591.90,61.43 592.27,61.29 592.64,61.15 593.01,61.01 593.38,60.87 593.75,60.73 594.12,60.59 594.48,60.45 594.85,60.32 595.22,60.18 595.59,60.04 595.96,59.90 596.33,59.76 596.70,59.63 597.07,59.49 597.43,59.35 597.80,59.22 598.17,59.08 598.54,58.94 598.91,58.81 599.28,58.67 599.65,58.54 600.02,58.40 600.38,58.27 600.75,58.13 601.12,58.00 601.49,57.87 601.86,57.73 602.23,57.60 602.60,57.47 602.96,57.34 603.33,57.20 603.70,57.07 604.07,56.94 604.44,56.81 604.81,56.68 605.18,56.55 605.55,56.42 605.91,56.29 606.28,56.16 606.65,56.03 607.02,55.90 607.39,55.77 607.76,55.64 608.13,55.51 608.49,55.38 608.86,55.25 609.23,55.12 609.60,55.00 609.97,54.87 610.34,54.74 610.71,54.62 611.08,54.49 611.44,54.36 611.81,54.24 612.18,54.11 612.55,53.98 612.92,53.86 613.29,53.73 613.66,53.61 614.02,53.48 614.39,53.36 614.76,53.24 615.13,53.11 615.50,52.99 615.87,52.86 616.24,52.74 616.61,52.62 616.97,52.50 617.34,52.37 617.71,52.25 618.08,52.13 618.45,52.01 618.82,51.89 619.19,51.76 619.55,51.64 619.92,51.52 620.29,51.40 620.66,51.28 621.03,51.16 621.40,51.04 621.77,50.92 622.14,50.80 622.50,50.68 622.87,50.56 623.24,50.44 623.61,50.33 623.98,50.21 624.35,50.09 624.72,49.97 625.08,49.85 625.45,49.74 625.82,49.62 626.19,49.50 626.56,49.39 626.93,49.27 627.30,49.15 627.67,49.04 628.03,48.92 628.40,48.80 628.77,48.69 629.14,48.57 629.51,48.46 629.88,48.34 630.25,48.23 630.61,48.11 630.98,48.00 631.35,47.89 631.72,47.77 632.09,47.66 632.46,47.55 632.83,47.43 633.20,47.32 633.56,47.21 633.93,47.09 634.30,46.98 634.67,46.87 635.04,46.76 635.41,46.64 635.78,46.53 636.14,46.42 636.51,46.31 636.88,46.20 637.25,46.09 637.62,45.98 637.99,45.87 638.36,45.76 638.73,45.65 639.09,45.54 639.46,45.43 639.83,45.32 640.20,45.21" fill="none" stroke="#ff00ff" stroke-width="1.8" stroke-linejoin="round"/>
<polyline clip-path="url(#cb)" points="382.50,141.06 382.87,141.40 383.24,141.74 383.61,142.08 383.97,142.43 384.34,142.77 384.71,143.12 385.08,143.47 385.45,143.82 385.82,144.17 386.19,144.53 386.56,144.88 386.92,145.24 387.29,145.60 387.66,145.96 388.03,146.32 388.40,146.68 388.77,147.04 389.14,147.41 389.50,147.77 389.87,148.14 390.24,148.51 390.61,148.88 390.98,149.25 391.35,149.62 391.72,149.99 392.09,150.36 392.45,150.74 392.82,151.11 393.19,151.49 393.56,151.86 393.93,152.24 394.30,152.61 394.67,152.99 395.03,153.37 395.40,153.75 395.77,154.12 396.14,154.50 396.51,154.88 396.88,155.26 397.25,155.63 397.62,156.01 397.98,156.39 398.35,156.76 398.72,157.14 399.09,157.51 399.46,157.88 399.83,158.25 400.20,158.62 400.56,158.99 400.93,159.36 401.30,159.73 401.67,160.09 402.04,160.45 402.41,160.81 402.78,161.17 403.15,161.52 403.51,161.87 403.88,162.22 404.25,162.56 404.62,162.90 404.99,163.24 405.36,163.57 405.73,163.90 406.09,164.22 406.46,164.54 406.83,164.85 407.20,165.15 407.57,165.45 407.94,165.75 408.31,166.03 408.68,166.31 409.04,166.58 409.41,166.85 409.78,167.10 410.15,167.35 410.52,167.58 410.89,167.81 411.26,168.03 411.62,168.23 411.99,168.43 412.36,168.61 412.73,168.79 413.10,168.95 413.47,169.10 413.84,169.24 414.21,169.36 414.57,169.48 414.94,169.57 415.31,169.66 415.68,169.73 416.05,169.80 416.42,169.84 416.79,169.88 417.15,169.90 417.52,169.91 417.89,169.90 418.26,169.89 418.63,169.86 419.00,169.82 419.37,169.76 419.74,169.70 420.10,169.62 420.47,169.54 420.84,169.44 421.21,169.33 421.58,169.22 421.95,169.09 422.32,168.96 422.68,168.81 423.05,168.66 423.23,168.59 423.42,168.50 423.79,168.33 424.16,168.16 424.53,167.98 424.90,167.79 425.27,167.59 425.63,167.39 426.00,167.19 426.37,166.97 426.74,166.75 427.11,166.53 427.48,166.30 427.85,166.06 428.22,165.82 428.58,165.58 428.95,165.33 429.32,165.07 429.69,164.81 430.06,164.55 430.43,164.28 430.80,164.00 431.16,163.73 431.53,163.44 431.90,163.16 432.27,162.87 432.64,162.57 433.01,162.27 433.38,161.97 433.75,161.67 434.11,161.36 434.48,161.04 434.85,160.73 435.22,160.40 435.59,160.08 435.96,159.75 436.33,159.42 436.69,159.09 437.06,158.75 437.43,158.41 437.80,158.07 438.17,157.72 438.54,157.37 438.91,157.02 439.28,156.67 439.64,156.31 440.01,155.96 440.38,155.60 440.75,155.23 441.12,154.87 441.49,154.50 441.86,154.14 442.22,153.77 442.59,153.39 442.96,153.02 443.33,152.65 443.70,152.27 444.07,151.89 444.44,151.52 444.81,151.14 445.17,150.76 445.54,150.37 445.91,149.99 446.28,149.61 446.65,149.22 447.02,148.84 447.39,148.45 447.75,148.07 448.12,147.68 448.49,147.29 448.86,146.91 449.23,146.52 449.60,146.13 449.97,145.75 450.34,145.36 450.70,144.97 451.07,144.58 451.44,144.19 451.81,143.81 452.18,143.42 452.55,143.03 452.92,142.64 453.28,142.26 453.65,141.87 454.02,141.49 454.39,141.10 454.76,140.71 455.13,140.33 455.50,139.95 455.87,139.56 456.23,139.18 456.60,138.80 456.97,138.42 457.34,138.04 457.71,137.65 458.08,137.28 458.45,136.90 458.81,136.52 459.18,136.14 459.55,135.77 459.92,135.39 460.29,135.02 460.66,134.64 461.03,134.27 461.40,133.90 461.76,133.53 462.13,133.16 462.50,132.79 462.87,132.42 463.24,132.06 463.61,131.69 463.98,131.33 464.34,130.96 464.71,130.60 465.08,130.24 465.45,129.88 465.82,129.52 466.19,129.16 466.56,128.80 466.93,128.45 467.29,128.09 467.66,127.74 468.03,127.39 468.40,127.04 468.77,126.69 469.14,126.34 469.51,125.99 469.87,125.64 470.24,125.30 470.61,124.96 470.98,124.61 471.35,124.27 471.72,123.93 472.09,123.59 472.46,123.25 472.82,122.92 473.19,122.58 473.56,122.25 473.93,121.91 474.30,121.58 474.67,121.25 475.04,120.92 475.40,120.59 475.77,120.26 476.14,119.94 476.51,119.61 476.88,119.29 477.25,118.97 477.62,118.64 477.99,118.32 478.35,118.00 478.72,117.69 479.09,117.37 479.46,117.05 479.83,116.74 480.20,116.43 480.57,116.11 480.93,115.80 481.30,115.49 481.67,115.19 482.04,114.88 482.41,114.57 482.78,114.27 483.15,113.96 483.52,113.66 483.88,113.36 484.25,113.06 484.62,112.76 484.99,112.46 485.36,112.16 485.73,111.87 486.10,111.57 486.46,111.28 486.83,110.98 487.20,110.69 487.57,110.40 487.94,110.11 488.31,109.82 488.68,109.54 489.05,109.25 489.41,108.97 489.78,108.68 490.15,108.40 490.52,108.12 490.89,107.84 491.26,107.56 491.63,107.28 491.99,107.00 492.36,106.72 492.73,106.45 493.10,106.17 493.47,105.90 493.84,105.63 494.21,105.35 494.58,105.08 494.94,104.81 495.31,104.54 495.68,104.28 496.05,104.01 496.42,103.74 496.79,103.48 497.16,103.21 497.52,102.95 497.89,102.69 498.26,102.43 498.63,102.17 499.00,101.91 499.37,101.65 499.74,101.39 500.11,101.14 500.47,100.88 500.84,100.63 501.21,100.37 501.58,100.12 501.95,99.87 502.32,99.62 502.69,99.37 503.05,99.12 503.42,98.87 503.79,98.62 504.16,98.38 504.53,98.13 504.90,97.89 505.27,97.64 505.64,97.40 506.00,97.16 506.37,96.92 506.74,96.68 507.11,96.44 507.48,96.20 507.85,95.96 508.22,95.72 508.58,95.49 508.95,95.25 509.32,95.02 509.69,94.78 510.06,94.55 510.43,94.32 510.80,94.09 511.17,93.86 511.53,93.63 511.90,93.40 512.27,93.17 512.64,92.94 513.01,92.72 513.38,92.49 513.75,92.26 514.12,92.04 514.48,91.82 514.85,91.59 515.22,91.37 515.59,91.15 515.96,90.93 516.33,90.71 516.70,90.49 517.06,90.27 517.43,90.05 517.80,89.84 518.17,89.62 518.54,89.40 518.91,89.19 519.28,88.97 519.65,88.76 520.01,88.55 520.38,88.33 520.75,88.12 521.12,87.91 521.49,87.70 521.86,87.49 522.23,87.28 522.59,87.08 522.96,86.87 523.33,86.66 523.70,86.46 524.07,86.25 524.44,86.04 524.81,85.84 525.18,85.64 525.54,85.43 525.91,85.23 526.28,85.03 526.65,84.83 527.02,84.63 527.39,84.43 527.76,84.23 528.12,84.03 528.49,83.83 528.86,83.64 529.23,83.44 529.60,83.24 529.97,83.05 530.34,82.85 530.71,82.66 531.07,82.46 531.44,82.27 531.81,82.08 532.18,81.89 532.55,81.69 532.92,81.50 533.29,81.31 533.65,81.12 534.02,80.93 534.39,80.75 534.76,80.56 535.13,80.37 535.50,80.18 535.87,80.00 536.24,79.81 536.60,79.63 536.97,79.44 537.34,79.26 537.71,79.07 538.08,78.89 538.45,78.71 538.82,78.53 539.18,78.34 539.55,78.16 539.92,77.98 540.29,77.80 540.66,77.62 541.03,77.44 541.40,77.27 541.77,77.09 542.13,76.91 542.50,76.73 542.87,76.56 543.24,76.38 543.61,76.21 543.98,76.03 544.35,75.86 544.71,75.68 545.08,75.51 545.45,75.34 545.82,75.16 546.19,74.99 546.56,74.82 546.93,74.65 547.30,74.48 547.66,74.31 548.03,74.14 548.40,73.97 548.77,73.80 549.14,73.63 549.51,73.47 549.88,73.30 550.24,73.13 550.61,72.96 550.98,72.80 551.35,72.63 551.72,72.47 552.09,72.30 552.46,72.14 552.83,71.98 553.19,71.81 553.56,71.65 553.93,71.49 554.30,71.32 554.67,71.16 555.04,71.00 555.41,70.84 555.77,70.68 556.14,70.52 556.51,70.36 556.88,70.20 557.25,70.04 557.62,69.89 557.99,69.73 558.36,69.57 558.72,69.41 559.09,69.26 559.46,69.10 559.83,68.94 560.20,68.79 560.57,68.63 560.94,68.48 561.30,68.33 561.67,68.17 562.04,68.02 562.41,67.87 562.78,67.71 563.15,67.56 563.52,67.41 563.89,67.26 564.25,67.11 564.62,66.95 564.99,66.80 565.36,66.65 565.73,66.50 566.10,66.36 566.47,66.21 566.83,66.06 567.20,65.91 567.57,65.76 567.94,65.61 568.31,65.47 568.68,65.32 569.05,65.17 569.42,65.03 569.78,64.88 570.15,64.74 570.52,64.59 570.89,64.45 571.26,64.30 571.63,64.16 572.00,64.02 572.36,63.87 572.73,63.73 573.10,63.59 573.47,63.45 573.84,63.30 574.21,63.16 574.58,63.02 574.95,62.88 575.31,62.74 575.68,62.60 576.05,62.46 576.42,62.32 576.79,62.18 577.16,62.04 577.53,61.90 577.89,61.76 578.26,61.63 578.63,61.49 579.00,61.35 579.37,61.22 579.74,61.08 580.11,60.94 580.48,60.81 580.84,60.67 581.21,60.54 581.58,60.40 581.95,60.27 582.32,60.13 582.69,60.00 583.06,59.86 583.42,59.73 583.79,59.60 584.16,59.46 584.53,59.33 584.90,59.20 585.27,59.07 585.64,58.93 586.01,58.80 586.37,58.67 586.74,58.54 587.11,58.41 587.48,58.28 587.85,58.15 588.22,58.02 588.59,57.89 588.95,57.76 589.32,57.63 589.69,57.50 590.06,57.38 590.43,57.25 590.80,57.12 591.17,56.99 591.54,56.86 591.90,56.74 592.27,56.61 592.64,56.48 593.01,56.36 593.38,56.23 593.75,56.11 594.12,55.98 594.48,55.86 594.85,55.73 595.22,55.61 595.59,55.48 595.96,55.36 596.33,55.23 596.70,55.11 597.07,54.99 597.43,54.87 597.80,54.74 598.17,54.62 598.54,54.50 598.91,54.38 599.28,54.25 599.65,54.13 600.02,54.01 600.38,53.89 600.75,53.77 601.12,53.65 601.49,53.53 601.86,53.41 602.23,53.29 602.60,53.17 602.96,53.05 603.33,52.93 603.70,52.81 604.07,52.69 604.44,52.58 604.81,52.46 605.18,52.34 605.55,52.22 605.91,52.11 606.28,51.99 606.65,51.87 607.02,51.76 607.39,51.64 607.76,51.52 608.13,51.41 608.49,51.29 608.86,51.18 609.23,51.06 609.60,50.95 609.97,50.83 610.34,50.72 610.71,50.60 611.08,50.49 611.44,50.37 611.81,50.26 612.18,50.15 612.55,50.03 612.92,49.92 613.29,49.81 613.66,49.70 614.02,49.58 614.39,49.47 614.76,49.36 615.13,49.25 615.50,49.14 615.87,49.03 616.24,48.91 616.61,48.80 616.97,48.69 617.34,48.58 617.71,48.47 618.08,48.36 618.45,48.25 618.82,48.14 619.19,48.03 619.55,47.93 619.92,47.82 620.29,47.71 620.66,47.60 621.03,47.49 621.40,47.38 621.77,47.27 622.14,47.17 622.50,47.06 622.87,46.95 623.24,46.84 623.61,46.74 623.98,46.63 624.35,46.52 624.72,46.42 625.08,46.31 625.45,46.21 625.82,46.10 626.19,46.00 626.56,45.89 626.93,45.78 627.30,45.68 627.67,45.58 628.03,45.47 628.40,45.37 628.77,45.26 629.14,45.16 629.51,45.05 629.88,44.95 630.25,44.85 630.61,44.74 630.98,44.64 631.35,44.54 631.72,44.44 632.09,44.33 632.46,44.23 632.83,44.13 633.20,44.03 633.56,43.92 633.93,43.82 634.30,43.72 634.67,43.62 635.04,43.52 635.41,43.42 635.78,43.32 636.14,43.22 636.51,43.12 636.88,43.02 637.25,42.92 637.62,42.82 637.99,42.72 638.36,42.62 638.73,42.52 639.09,42.42 639.46,42.32 639.83,42.22 640.20,42.12" fill="none" stroke="#000080" stroke-width="1.8" stroke-linejoin="round"/>
<rect x="382.3" y="13.3" width="258.50" height="208.2" fill="none" stroke="#111" stroke-width="1.8"/>
<line x1="419.23" y1="221.5" x2="419.23" y2="217.0" stroke="#000" stroke-width="1.7"/>
<line x1="474.62" y1="221.5" x2="474.62" y2="217.0" stroke="#000" stroke-width="1.7"/>
<line x1="530.01" y1="221.5" x2="530.01" y2="217.0" stroke="#000" stroke-width="1.7"/>
<line x1="585.41" y1="221.5" x2="585.41" y2="217.0" stroke="#000" stroke-width="1.7"/>
<line x1="391.53" y1="221.5" x2="391.53" y2="219.0" stroke="#000" stroke-width="1.7"/>
<line x1="446.92" y1="221.5" x2="446.92" y2="219.0" stroke="#000" stroke-width="1.7"/>
<line x1="502.32" y1="221.5" x2="502.32" y2="219.0" stroke="#000" stroke-width="1.7"/>
<line x1="557.71" y1="221.5" x2="557.71" y2="219.0" stroke="#000" stroke-width="1.7"/>
<line x1="613.10" y1="221.5" x2="613.10" y2="219.0" stroke="#000" stroke-width="1.7"/>
<line x1="382.3" y1="13.00" x2="386.8" y2="13.00" stroke="#000" stroke-width="1.7"/>
<line x1="382.3" y1="50.82" x2="386.8" y2="50.82" stroke="#000" stroke-width="1.7"/>
<line x1="382.3" y1="88.64" x2="386.8" y2="88.64" stroke="#000" stroke-width="1.7"/>
<line x1="382.3" y1="126.45" x2="386.8" y2="126.45" stroke="#000" stroke-width="1.7"/>
<line x1="382.3" y1="164.27" x2="386.8" y2="164.27" stroke="#000" stroke-width="1.7"/>
<line x1="382.3" y1="202.09" x2="386.8" y2="202.09" stroke="#000" stroke-width="1.7"/>
<line x1="382.3" y1="31.91" x2="384.8" y2="31.91" stroke="#000" stroke-width="1.7"/>
<line x1="382.3" y1="69.73" x2="384.8" y2="69.73" stroke="#000" stroke-width="1.7"/>
<line x1="382.3" y1="107.55" x2="384.8" y2="107.55" stroke="#000" stroke-width="1.7"/>
<line x1="382.3" y1="145.36" x2="384.8" y2="145.36" stroke="#000" stroke-width="1.7"/>
<line x1="382.3" y1="183.18" x2="384.8" y2="183.18" stroke="#000" stroke-width="1.7"/>
<line x1="382.3" y1="221.00" x2="384.8" y2="221.00" stroke="#000" stroke-width="1.7"/>
<text x="419.23" y="234.8" class="tk" text-anchor="middle" textLength="35.5" lengthAdjust="spacingAndGlyphs">1552.2</text>
<text x="474.62" y="234.8" class="tk" text-anchor="middle" textLength="35.5" lengthAdjust="spacingAndGlyphs">1552.5</text>
<text x="530.01" y="234.8" class="tk" text-anchor="middle" textLength="35.5" lengthAdjust="spacingAndGlyphs">1552.8</text>
<text x="585.41" y="234.8" class="tk" text-anchor="middle" textLength="35.5" lengthAdjust="spacingAndGlyphs">1553.1</text>
<text x="640.80" y="234.8" class="tk" text-anchor="middle" textLength="35.5" lengthAdjust="spacingAndGlyphs">1553.4</text>
<text x="371.35" y="17.40" class="tk" textLength="6.45" lengthAdjust="spacingAndGlyphs">0</text>
<text x="361.04" y="55.22" class="tk" textLength="16.76" lengthAdjust="spacingAndGlyphs"><tspan dy="-0.4">-</tspan><tspan dy="0.4">10</tspan></text>
<text x="361.04" y="93.04" class="tk" textLength="16.76" lengthAdjust="spacingAndGlyphs"><tspan dy="-0.4">-</tspan><tspan dy="0.4">20</tspan></text>
<text x="361.04" y="130.85" class="tk" textLength="16.76" lengthAdjust="spacingAndGlyphs"><tspan dy="-0.4">-</tspan><tspan dy="0.4">30</tspan></text>
<text x="361.04" y="168.67" class="tk" textLength="16.76" lengthAdjust="spacingAndGlyphs"><tspan dy="-0.4">-</tspan><tspan dy="0.4">40</tspan></text>
<text x="361.04" y="206.49" class="tk" textLength="16.76" lengthAdjust="spacingAndGlyphs"><tspan dy="-0.4">-</tspan><tspan dy="0.4">50</tspan></text>
<text x="180.3" y="256.9" class="ti" style="font-size:13.75px" text-anchor="middle">Wavelength (nm)</text>
<text x="511.9" y="256.9" class="ti" style="font-size:13.75px" text-anchor="middle">Wavelength (nm)</text>
<text transform="translate(10.9,110.7) rotate(-90)" class="ti" text-anchor="middle">Transmission (dBm)</text>
<text transform="translate(348.6,110.3) rotate(-90)" class="ti" text-anchor="middle">Transmission (dBm)</text>
<text x="2.8" y="14.0" class="pl" style="font-size:16px" textLength="8.0" lengthAdjust="spacingAndGlyphs">a</text>
<text x="338.9" y="13.5" class="pl">b</text>
<line x1="241.8" y1="116.00" x2="266.8" y2="116.00" stroke="#000000" stroke-width="1.6"/>
<text x="269" y="119.80" class="lg">0.0 eV</text>
<line x1="241.8" y1="129.20" x2="266.8" y2="129.20" stroke="#ff0000" stroke-width="1.6"/>
<text x="269" y="133.00" class="lg">0.1 eV</text>
<line x1="241.8" y1="142.30" x2="266.8" y2="142.30" stroke="#0000ff" stroke-width="1.6"/>
<text x="269" y="146.10" class="lg">0.2 eV</text>
<line x1="241.8" y1="155.50" x2="266.8" y2="155.50" stroke="#ff00ff" stroke-width="1.6"/>
<text x="269" y="159.30" class="lg">0.3 eV</text>
<line x1="241.8" y1="168.50" x2="266.8" y2="168.50" stroke="#008000" stroke-width="1.6"/>
<text x="269" y="172.30" class="lg">0.4 eV</text>
<line x1="579" y1="138.70" x2="604" y2="138.70" stroke="#248c24" stroke-width="1.6"/>
<text x="606.6" y="142.50" class="lg">0.4 eV</text>
<line x1="579" y1="151.80" x2="604" y2="151.80" stroke="#000000" stroke-width="1.6"/>
<text x="606.6" y="155.60" class="lg">0.5 eV</text>
<line x1="579" y1="164.90" x2="604" y2="164.90" stroke="#ff0000" stroke-width="1.6"/>
<text x="606.6" y="168.70" class="lg">0.6 eV</text>
<line x1="579" y1="178.00" x2="604" y2="178.00" stroke="#0000ff" stroke-width="1.6"/>
<text x="606.6" y="181.80" class="lg">0.7 eV</text>
<line x1="579" y1="191.10" x2="604" y2="191.10" stroke="#ff00ff" stroke-width="1.6"/>
<text x="606.6" y="194.90" class="lg">0.8 eV</text>
<line x1="579" y1="204.20" x2="604" y2="204.20" stroke="#000080" stroke-width="1.6"/>
<text x="606.6" y="208.00" class="lg">0.9 eV</text>
<line x1="196" y1="111" x2="196" y2="194" stroke="#333" stroke-width="0.9" stroke-dasharray="1,1"/>
<line x1="165" y1="194" x2="196" y2="194" stroke="#333" stroke-width="0.9" stroke-dasharray="1,1"/>
<line x1="166" y1="188.1" x2="195.5" y2="188.1" stroke="#000" stroke-width="1.2"/>
<polyline points="170.5,184.5 166.2,188.1 170.5,191.7" fill="none" stroke="#000" stroke-width="1.2"/>
<polyline points="191,184.5 195.3,188.1 191,191.7" fill="none" stroke="#000" stroke-width="1.2"/>
<text x="166.2" y="203.2" class="an" textLength="33.2" lengthAdjust="spacingAndGlyphs">173 pm</text>
<line x1="417.3" y1="171" x2="417.3" y2="184" stroke="#333" stroke-width="0.9" stroke-dasharray="1,1"/>
<line x1="491.6" y1="171.5" x2="491.6" y2="184.5" stroke="#333" stroke-width="0.9" stroke-dasharray="1,1"/>
<line x1="418" y1="177.4" x2="491" y2="177.4" stroke="#000" stroke-width="1.2"/>
<polyline points="422.5,173.6 418.2,177.4 422.5,181.2" fill="none" stroke="#000" stroke-width="1.2"/>
<polyline points="486.8,173.6 491.1,177.4 486.8,181.2" fill="none" stroke="#000" stroke-width="1.2"/>
<text x="437.5" y="188.0" class="an" textLength="30.3" lengthAdjust="spacingAndGlyphs">385pm</text>
</svg>
</body></html>
